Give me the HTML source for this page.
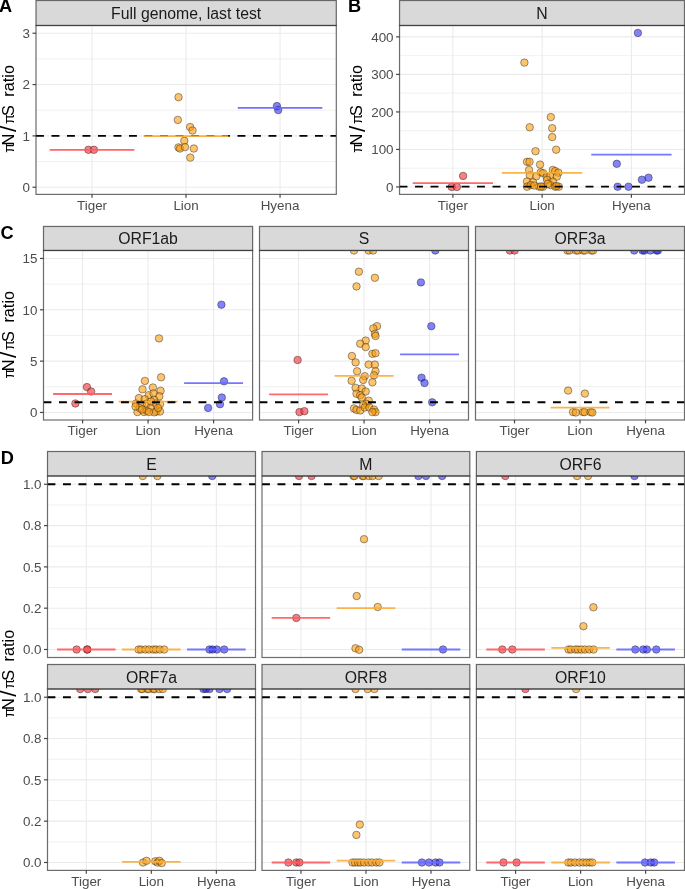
<!DOCTYPE html><html><head><meta charset="utf-8"><style>html,body{margin:0;padding:0;background:#fff;overflow:hidden}svg{display:block}text{font-family:"Liberation Sans", sans-serif;}</style></head><body>
<svg style="will-change:transform" width="685" height="889" viewBox="0 0 685 889">
<rect width="685" height="889" fill="#fff"/>
<rect x="36.0" y="25.5" width="300.3" height="168.9" fill="#fff"/>
<line x1="36.00" x2="336.30" y1="161.56" y2="161.56" stroke="#ebebeb" stroke-width="0.7" stroke-opacity="1.0" />
<line x1="36.00" x2="336.30" y1="110.22" y2="110.22" stroke="#ebebeb" stroke-width="0.7" stroke-opacity="1.0" />
<line x1="36.00" x2="336.30" y1="58.90" y2="58.90" stroke="#ebebeb" stroke-width="0.7" stroke-opacity="1.0" />
<line x1="36.00" x2="336.30" y1="187.22" y2="187.22" stroke="#ebebeb" stroke-width="1.1" stroke-opacity="1.0" />
<line x1="36.00" x2="336.30" y1="135.89" y2="135.89" stroke="#ebebeb" stroke-width="1.1" stroke-opacity="1.0" />
<line x1="36.00" x2="336.30" y1="84.56" y2="84.56" stroke="#ebebeb" stroke-width="1.1" stroke-opacity="1.0" />
<line x1="36.00" x2="336.30" y1="33.23" y2="33.23" stroke="#ebebeb" stroke-width="1.1" stroke-opacity="1.0" />
<line x1="92.04" x2="92.04" y1="25.50" y2="194.40" stroke="#ebebeb" stroke-width="1.1" stroke-opacity="1.0"/>
<line x1="186.04" x2="186.04" y1="25.50" y2="194.40" stroke="#ebebeb" stroke-width="1.1" stroke-opacity="1.0"/>
<line x1="280.04" x2="280.04" y1="25.50" y2="194.40" stroke="#ebebeb" stroke-width="1.1" stroke-opacity="1.0"/>
<clipPath id="cA"><rect x="36.0" y="25.5" width="300.3" height="168.9"/></clipPath>
<g clip-path="url(#cA)">
<circle cx="88.4" cy="149.8" r="3.75" fill="#f53b40" fill-opacity="0.65" stroke="#222" stroke-opacity="0.75" stroke-width="0.6"/>
<circle cx="93.9" cy="149.8" r="3.75" fill="#f53b40" fill-opacity="0.65" stroke="#222" stroke-opacity="0.75" stroke-width="0.6"/>
<circle cx="178.5" cy="97.2" r="3.75" fill="#fc9d0d" fill-opacity="0.6" stroke="#222" stroke-opacity="0.75" stroke-width="0.6"/>
<circle cx="177.8" cy="119.9" r="3.75" fill="#fc9d0d" fill-opacity="0.6" stroke="#222" stroke-opacity="0.75" stroke-width="0.6"/>
<circle cx="190.1" cy="127.0" r="3.75" fill="#fc9d0d" fill-opacity="0.6" stroke="#222" stroke-opacity="0.75" stroke-width="0.6"/>
<circle cx="192.5" cy="130.5" r="3.75" fill="#fc9d0d" fill-opacity="0.6" stroke="#222" stroke-opacity="0.75" stroke-width="0.6"/>
<circle cx="184.3" cy="140.8" r="3.75" fill="#fc9d0d" fill-opacity="0.6" stroke="#222" stroke-opacity="0.75" stroke-width="0.6"/>
<circle cx="178.5" cy="147.4" r="3.75" fill="#fc9d0d" fill-opacity="0.6" stroke="#222" stroke-opacity="0.75" stroke-width="0.6"/>
<circle cx="180.0" cy="148.5" r="3.75" fill="#fc9d0d" fill-opacity="0.6" stroke="#222" stroke-opacity="0.75" stroke-width="0.6"/>
<circle cx="185.0" cy="147.1" r="3.75" fill="#fc9d0d" fill-opacity="0.6" stroke="#222" stroke-opacity="0.75" stroke-width="0.6"/>
<circle cx="193.8" cy="148.5" r="3.75" fill="#fc9d0d" fill-opacity="0.6" stroke="#222" stroke-opacity="0.75" stroke-width="0.6"/>
<circle cx="190.3" cy="157.6" r="3.75" fill="#fc9d0d" fill-opacity="0.6" stroke="#222" stroke-opacity="0.75" stroke-width="0.6"/>
<circle cx="276.9" cy="106.1" r="3.75" fill="#1c1cf5" fill-opacity="0.55" stroke="#222" stroke-opacity="0.75" stroke-width="0.6"/>
<circle cx="278.2" cy="110.1" r="3.75" fill="#1c1cf5" fill-opacity="0.55" stroke="#222" stroke-opacity="0.75" stroke-width="0.6"/>
<line x1="36.00" x2="336.30" y1="135.89" y2="135.89" stroke="#000" stroke-width="1.9" stroke-opacity="1.0" stroke-dasharray="7.9 7.6"/>
<line x1="49.74" x2="134.34" y1="149.80" y2="149.80" stroke="#ff5c61" stroke-width="1.8" stroke-opacity="0.95" />
<line x1="143.74" x2="228.34" y1="136.05" y2="136.05" stroke="#f8ae3e" stroke-width="1.8" stroke-opacity="0.95" />
<line x1="237.74" x2="322.34" y1="107.80" y2="107.80" stroke="#6a6aff" stroke-width="1.8" stroke-opacity="0.95" />
</g>
<rect x="36.0" y="0.5" width="300.3" height="25.0" fill="#d9d9d9"/>
<rect x="36.0" y="0.5" width="300.3" height="25.0" fill="none" stroke="#333" stroke-width="1.2" stroke-opacity="0.72"/>
<text x="186.15" y="18.90" font-size="15.8" fill="#1a1a1a" text-anchor="middle">Full genome, last test</text>
<rect x="36.0" y="25.5" width="300.3" height="168.9" fill="none" stroke="#333" stroke-width="1.2" stroke-opacity="0.72"/>
<line x1="32.50" x2="36.00" y1="187.22" y2="187.22" stroke="#333" stroke-width="1.2" stroke-opacity="0.9" />
<text x="30.00" y="192.02" font-size="13.4" fill="#4d4d4d" text-anchor="end">0</text>
<line x1="32.50" x2="36.00" y1="135.89" y2="135.89" stroke="#333" stroke-width="1.2" stroke-opacity="0.9" />
<text x="30.00" y="140.69" font-size="13.4" fill="#4d4d4d" text-anchor="end">1</text>
<line x1="32.50" x2="36.00" y1="84.56" y2="84.56" stroke="#333" stroke-width="1.2" stroke-opacity="0.9" />
<text x="30.00" y="89.36" font-size="13.4" fill="#4d4d4d" text-anchor="end">2</text>
<line x1="32.50" x2="36.00" y1="33.23" y2="33.23" stroke="#333" stroke-width="1.2" stroke-opacity="0.9" />
<text x="30.00" y="38.03" font-size="13.4" fill="#4d4d4d" text-anchor="end">3</text>
<line x1="92.04" x2="92.04" y1="194.40" y2="197.80" stroke="#333" stroke-width="1.2" stroke-opacity="0.9"/>
<text x="92.04" y="209.80" font-size="13.4" fill="#4d4d4d" text-anchor="middle">Tiger</text>
<line x1="186.04" x2="186.04" y1="194.40" y2="197.80" stroke="#333" stroke-width="1.2" stroke-opacity="0.9"/>
<text x="186.04" y="209.80" font-size="13.4" fill="#4d4d4d" text-anchor="middle">Lion</text>
<line x1="280.04" x2="280.04" y1="194.40" y2="197.80" stroke="#333" stroke-width="1.2" stroke-opacity="0.9"/>
<text x="280.04" y="209.80" font-size="13.4" fill="#4d4d4d" text-anchor="middle">Hyena</text>
<rect x="399.55" y="25.5" width="284.95" height="168.9" fill="#fff"/>
<line x1="399.55" x2="684.50" y1="168.20" y2="168.20" stroke="#ebebeb" stroke-width="0.7" stroke-opacity="1.0" />
<line x1="399.55" x2="684.50" y1="130.68" y2="130.68" stroke="#ebebeb" stroke-width="0.7" stroke-opacity="1.0" />
<line x1="399.55" x2="684.50" y1="93.16" y2="93.16" stroke="#ebebeb" stroke-width="0.7" stroke-opacity="1.0" />
<line x1="399.55" x2="684.50" y1="55.64" y2="55.64" stroke="#ebebeb" stroke-width="0.7" stroke-opacity="1.0" />
<line x1="399.55" x2="684.50" y1="186.96" y2="186.96" stroke="#ebebeb" stroke-width="1.1" stroke-opacity="1.0" />
<line x1="399.55" x2="684.50" y1="149.44" y2="149.44" stroke="#ebebeb" stroke-width="1.1" stroke-opacity="1.0" />
<line x1="399.55" x2="684.50" y1="111.92" y2="111.92" stroke="#ebebeb" stroke-width="1.1" stroke-opacity="1.0" />
<line x1="399.55" x2="684.50" y1="74.40" y2="74.40" stroke="#ebebeb" stroke-width="1.1" stroke-opacity="1.0" />
<line x1="399.55" x2="684.50" y1="36.88" y2="36.88" stroke="#ebebeb" stroke-width="1.1" stroke-opacity="1.0" />
<line x1="452.87" x2="452.87" y1="25.50" y2="194.40" stroke="#ebebeb" stroke-width="1.1" stroke-opacity="1.0"/>
<line x1="542.13" x2="542.13" y1="25.50" y2="194.40" stroke="#ebebeb" stroke-width="1.1" stroke-opacity="1.0"/>
<line x1="631.40" x2="631.40" y1="25.50" y2="194.40" stroke="#ebebeb" stroke-width="1.1" stroke-opacity="1.0"/>
<clipPath id="cB"><rect x="399.55" y="25.5" width="284.95" height="168.9"/></clipPath>
<g clip-path="url(#cB)">
<circle cx="463.1" cy="175.9" r="3.75" fill="#f53b40" fill-opacity="0.65" stroke="#222" stroke-opacity="0.75" stroke-width="0.6"/>
<circle cx="451.7" cy="187.0" r="3.75" fill="#f53b40" fill-opacity="0.65" stroke="#222" stroke-opacity="0.75" stroke-width="0.6"/>
<circle cx="456.9" cy="187.0" r="3.75" fill="#f53b40" fill-opacity="0.65" stroke="#222" stroke-opacity="0.75" stroke-width="0.6"/>
<circle cx="550.8" cy="117.1" r="3.75" fill="#fc9d0d" fill-opacity="0.6" stroke="#222" stroke-opacity="0.75" stroke-width="0.6"/>
<circle cx="529.7" cy="127.3" r="3.75" fill="#fc9d0d" fill-opacity="0.6" stroke="#222" stroke-opacity="0.75" stroke-width="0.6"/>
<circle cx="552.2" cy="128.2" r="3.75" fill="#fc9d0d" fill-opacity="0.6" stroke="#222" stroke-opacity="0.75" stroke-width="0.6"/>
<circle cx="552.2" cy="137.1" r="3.75" fill="#fc9d0d" fill-opacity="0.6" stroke="#222" stroke-opacity="0.75" stroke-width="0.6"/>
<circle cx="535.5" cy="151.2" r="3.75" fill="#fc9d0d" fill-opacity="0.6" stroke="#222" stroke-opacity="0.75" stroke-width="0.6"/>
<circle cx="556.2" cy="149.7" r="3.75" fill="#fc9d0d" fill-opacity="0.6" stroke="#222" stroke-opacity="0.75" stroke-width="0.6"/>
<circle cx="524.4" cy="62.6" r="3.75" fill="#fc9d0d" fill-opacity="0.6" stroke="#222" stroke-opacity="0.75" stroke-width="0.6"/>
<circle cx="527.0" cy="161.8" r="3.75" fill="#fc9d0d" fill-opacity="0.6" stroke="#222" stroke-opacity="0.75" stroke-width="0.6"/>
<circle cx="529.5" cy="161.8" r="3.75" fill="#fc9d0d" fill-opacity="0.6" stroke="#222" stroke-opacity="0.75" stroke-width="0.6"/>
<circle cx="540.1" cy="164.6" r="3.75" fill="#fc9d0d" fill-opacity="0.6" stroke="#222" stroke-opacity="0.75" stroke-width="0.6"/>
<circle cx="529.1" cy="169.9" r="3.75" fill="#fc9d0d" fill-opacity="0.6" stroke="#222" stroke-opacity="0.75" stroke-width="0.6"/>
<circle cx="552.8" cy="169.9" r="3.75" fill="#fc9d0d" fill-opacity="0.6" stroke="#222" stroke-opacity="0.75" stroke-width="0.6"/>
<circle cx="555.2" cy="171.1" r="3.75" fill="#fc9d0d" fill-opacity="0.6" stroke="#222" stroke-opacity="0.75" stroke-width="0.6"/>
<circle cx="558.4" cy="172.7" r="3.75" fill="#fc9d0d" fill-opacity="0.6" stroke="#222" stroke-opacity="0.75" stroke-width="0.6"/>
<circle cx="540.7" cy="172.3" r="3.75" fill="#fc9d0d" fill-opacity="0.6" stroke="#222" stroke-opacity="0.75" stroke-width="0.6"/>
<circle cx="543.1" cy="173.1" r="3.75" fill="#fc9d0d" fill-opacity="0.6" stroke="#222" stroke-opacity="0.75" stroke-width="0.6"/>
<circle cx="529.9" cy="175.5" r="3.75" fill="#fc9d0d" fill-opacity="0.6" stroke="#222" stroke-opacity="0.75" stroke-width="0.6"/>
<circle cx="536.3" cy="176.3" r="3.75" fill="#fc9d0d" fill-opacity="0.6" stroke="#222" stroke-opacity="0.75" stroke-width="0.6"/>
<circle cx="546.7" cy="177.1" r="3.75" fill="#fc9d0d" fill-opacity="0.6" stroke="#222" stroke-opacity="0.75" stroke-width="0.6"/>
<circle cx="550.3" cy="176.3" r="3.75" fill="#fc9d0d" fill-opacity="0.6" stroke="#222" stroke-opacity="0.75" stroke-width="0.6"/>
<circle cx="556.8" cy="176.7" r="3.75" fill="#fc9d0d" fill-opacity="0.6" stroke="#222" stroke-opacity="0.75" stroke-width="0.6"/>
<circle cx="527.0" cy="181.5" r="3.75" fill="#fc9d0d" fill-opacity="0.6" stroke="#222" stroke-opacity="0.75" stroke-width="0.6"/>
<circle cx="533.1" cy="182.3" r="3.75" fill="#fc9d0d" fill-opacity="0.6" stroke="#222" stroke-opacity="0.75" stroke-width="0.6"/>
<circle cx="547.1" cy="179.9" r="3.75" fill="#fc9d0d" fill-opacity="0.6" stroke="#222" stroke-opacity="0.75" stroke-width="0.6"/>
<circle cx="552.8" cy="181.5" r="3.75" fill="#fc9d0d" fill-opacity="0.6" stroke="#222" stroke-opacity="0.75" stroke-width="0.6"/>
<circle cx="527.0" cy="186.7" r="3.75" fill="#fc9d0d" fill-opacity="0.6" stroke="#222" stroke-opacity="0.75" stroke-width="0.6"/>
<circle cx="530.7" cy="185.1" r="3.75" fill="#fc9d0d" fill-opacity="0.6" stroke="#222" stroke-opacity="0.75" stroke-width="0.6"/>
<circle cx="539.1" cy="186.7" r="3.75" fill="#fc9d0d" fill-opacity="0.6" stroke="#222" stroke-opacity="0.75" stroke-width="0.6"/>
<circle cx="543.1" cy="186.7" r="3.75" fill="#fc9d0d" fill-opacity="0.6" stroke="#222" stroke-opacity="0.75" stroke-width="0.6"/>
<circle cx="550.3" cy="185.1" r="3.75" fill="#fc9d0d" fill-opacity="0.6" stroke="#222" stroke-opacity="0.75" stroke-width="0.6"/>
<circle cx="555.2" cy="186.7" r="3.75" fill="#fc9d0d" fill-opacity="0.6" stroke="#222" stroke-opacity="0.75" stroke-width="0.6"/>
<circle cx="558.8" cy="186.7" r="3.75" fill="#fc9d0d" fill-opacity="0.6" stroke="#222" stroke-opacity="0.75" stroke-width="0.6"/>
<circle cx="534.3" cy="185.5" r="3.75" fill="#fc9d0d" fill-opacity="0.6" stroke="#222" stroke-opacity="0.75" stroke-width="0.6"/>
<circle cx="547.9" cy="183.9" r="3.75" fill="#fc9d0d" fill-opacity="0.6" stroke="#222" stroke-opacity="0.75" stroke-width="0.6"/>
<circle cx="541.0" cy="186.5" r="3.75" fill="#fc9d0d" fill-opacity="0.6" stroke="#222" stroke-opacity="0.75" stroke-width="0.6"/>
<circle cx="556.5" cy="186.0" r="3.75" fill="#fc9d0d" fill-opacity="0.6" stroke="#222" stroke-opacity="0.75" stroke-width="0.6"/>
<circle cx="637.9" cy="32.9" r="3.75" fill="#1c1cf5" fill-opacity="0.55" stroke="#222" stroke-opacity="0.75" stroke-width="0.6"/>
<circle cx="616.8" cy="163.8" r="3.75" fill="#1c1cf5" fill-opacity="0.55" stroke="#222" stroke-opacity="0.75" stroke-width="0.6"/>
<circle cx="617.6" cy="186.7" r="3.75" fill="#1c1cf5" fill-opacity="0.55" stroke="#222" stroke-opacity="0.75" stroke-width="0.6"/>
<circle cx="628.5" cy="186.7" r="3.75" fill="#1c1cf5" fill-opacity="0.55" stroke="#222" stroke-opacity="0.75" stroke-width="0.6"/>
<circle cx="641.9" cy="179.7" r="3.75" fill="#1c1cf5" fill-opacity="0.55" stroke="#222" stroke-opacity="0.75" stroke-width="0.6"/>
<circle cx="648.5" cy="177.7" r="3.75" fill="#1c1cf5" fill-opacity="0.55" stroke="#222" stroke-opacity="0.75" stroke-width="0.6"/>
<line x1="412.70" x2="493.04" y1="183.10" y2="183.10" stroke="#ff5c61" stroke-width="1.8" stroke-opacity="0.92" />
<line x1="501.96" x2="582.30" y1="172.80" y2="172.80" stroke="#f8ae3e" stroke-width="1.8" stroke-opacity="0.92" />
<line x1="591.23" x2="671.57" y1="154.70" y2="154.70" stroke="#6a6aff" stroke-width="1.8" stroke-opacity="0.92" />
<line x1="399.55" x2="684.50" y1="186.58" y2="186.58" stroke="#000" stroke-width="1.9" stroke-opacity="1.0" stroke-dasharray="7.9 7.6"/>
</g>
<rect x="399.55" y="0.5" width="284.95" height="25.0" fill="#d9d9d9"/>
<rect x="399.55" y="0.5" width="284.95" height="25.0" fill="none" stroke="#333" stroke-width="1.2" stroke-opacity="0.72"/>
<text x="542.02" y="18.90" font-size="15.8" fill="#1a1a1a" text-anchor="middle">N</text>
<rect x="399.55" y="25.5" width="284.95" height="168.9" fill="none" stroke="#333" stroke-width="1.2" stroke-opacity="0.72"/>
<line x1="396.05" x2="399.55" y1="186.96" y2="186.96" stroke="#333" stroke-width="1.2" stroke-opacity="0.9" />
<text x="393.55" y="191.76" font-size="13.4" fill="#4d4d4d" text-anchor="end">0</text>
<line x1="396.05" x2="399.55" y1="149.44" y2="149.44" stroke="#333" stroke-width="1.2" stroke-opacity="0.9" />
<text x="393.55" y="154.24" font-size="13.4" fill="#4d4d4d" text-anchor="end">100</text>
<line x1="396.05" x2="399.55" y1="111.92" y2="111.92" stroke="#333" stroke-width="1.2" stroke-opacity="0.9" />
<text x="393.55" y="116.72" font-size="13.4" fill="#4d4d4d" text-anchor="end">200</text>
<line x1="396.05" x2="399.55" y1="74.40" y2="74.40" stroke="#333" stroke-width="1.2" stroke-opacity="0.9" />
<text x="393.55" y="79.20" font-size="13.4" fill="#4d4d4d" text-anchor="end">300</text>
<line x1="396.05" x2="399.55" y1="36.88" y2="36.88" stroke="#333" stroke-width="1.2" stroke-opacity="0.9" />
<text x="393.55" y="41.68" font-size="13.4" fill="#4d4d4d" text-anchor="end">400</text>
<line x1="452.87" x2="452.87" y1="194.40" y2="197.80" stroke="#333" stroke-width="1.2" stroke-opacity="0.9"/>
<text x="452.87" y="209.80" font-size="13.4" fill="#4d4d4d" text-anchor="middle">Tiger</text>
<line x1="542.13" x2="542.13" y1="194.40" y2="197.80" stroke="#333" stroke-width="1.2" stroke-opacity="0.9"/>
<text x="542.13" y="209.80" font-size="13.4" fill="#4d4d4d" text-anchor="middle">Lion</text>
<line x1="631.40" x2="631.40" y1="194.40" y2="197.80" stroke="#333" stroke-width="1.2" stroke-opacity="0.9"/>
<text x="631.40" y="209.80" font-size="13.4" fill="#4d4d4d" text-anchor="middle">Hyena</text>
<rect x="43.5" y="250.48" width="209.1" height="169.52" fill="#fff"/>
<line x1="43.50" x2="252.60" y1="386.78" y2="386.78" stroke="#ebebeb" stroke-width="0.7" stroke-opacity="1.0" />
<line x1="43.50" x2="252.60" y1="335.45" y2="335.45" stroke="#ebebeb" stroke-width="0.7" stroke-opacity="1.0" />
<line x1="43.50" x2="252.60" y1="284.11" y2="284.11" stroke="#ebebeb" stroke-width="0.7" stroke-opacity="1.0" />
<line x1="43.50" x2="252.60" y1="412.45" y2="412.45" stroke="#ebebeb" stroke-width="1.1" stroke-opacity="1.0" />
<line x1="43.50" x2="252.60" y1="361.12" y2="361.12" stroke="#ebebeb" stroke-width="1.1" stroke-opacity="1.0" />
<line x1="43.50" x2="252.60" y1="309.78" y2="309.78" stroke="#ebebeb" stroke-width="1.1" stroke-opacity="1.0" />
<line x1="43.50" x2="252.60" y1="258.44" y2="258.44" stroke="#ebebeb" stroke-width="1.1" stroke-opacity="1.0" />
<line x1="82.57" x2="82.57" y1="250.48" y2="420.00" stroke="#ebebeb" stroke-width="1.1" stroke-opacity="1.0"/>
<line x1="148.07" x2="148.07" y1="250.48" y2="420.00" stroke="#ebebeb" stroke-width="1.1" stroke-opacity="1.0"/>
<line x1="213.57" x2="213.57" y1="250.48" y2="420.00" stroke="#ebebeb" stroke-width="1.1" stroke-opacity="1.0"/>
<clipPath id="cC1"><rect x="43.5" y="250.48" width="209.1" height="169.52"/></clipPath>
<g clip-path="url(#cC1)">
<circle cx="86.9" cy="387.1" r="3.75" fill="#f53b40" fill-opacity="0.65" stroke="#222" stroke-opacity="0.75" stroke-width="0.6"/>
<circle cx="91.1" cy="391.5" r="3.75" fill="#f53b40" fill-opacity="0.65" stroke="#222" stroke-opacity="0.75" stroke-width="0.6"/>
<circle cx="75.4" cy="403.5" r="3.75" fill="#f53b40" fill-opacity="0.65" stroke="#222" stroke-opacity="0.75" stroke-width="0.6"/>
<circle cx="159.0" cy="338.4" r="3.75" fill="#fc9d0d" fill-opacity="0.6" stroke="#222" stroke-opacity="0.75" stroke-width="0.6"/>
<circle cx="161.1" cy="377.3" r="3.75" fill="#fc9d0d" fill-opacity="0.6" stroke="#222" stroke-opacity="0.75" stroke-width="0.6"/>
<circle cx="144.9" cy="380.9" r="3.75" fill="#fc9d0d" fill-opacity="0.6" stroke="#222" stroke-opacity="0.75" stroke-width="0.6"/>
<circle cx="142.5" cy="389.3" r="3.75" fill="#fc9d0d" fill-opacity="0.6" stroke="#222" stroke-opacity="0.75" stroke-width="0.6"/>
<circle cx="152.9" cy="387.5" r="3.75" fill="#fc9d0d" fill-opacity="0.6" stroke="#222" stroke-opacity="0.75" stroke-width="0.6"/>
<circle cx="160.6" cy="390.8" r="3.75" fill="#fc9d0d" fill-opacity="0.6" stroke="#222" stroke-opacity="0.75" stroke-width="0.6"/>
<circle cx="148.7" cy="395.2" r="3.75" fill="#fc9d0d" fill-opacity="0.6" stroke="#222" stroke-opacity="0.75" stroke-width="0.6"/>
<circle cx="153.5" cy="393.4" r="3.75" fill="#fc9d0d" fill-opacity="0.6" stroke="#222" stroke-opacity="0.75" stroke-width="0.6"/>
<circle cx="159.3" cy="396.3" r="3.75" fill="#fc9d0d" fill-opacity="0.6" stroke="#222" stroke-opacity="0.75" stroke-width="0.6"/>
<circle cx="138.9" cy="398.1" r="3.75" fill="#fc9d0d" fill-opacity="0.6" stroke="#222" stroke-opacity="0.75" stroke-width="0.6"/>
<circle cx="144.7" cy="399.2" r="3.75" fill="#fc9d0d" fill-opacity="0.6" stroke="#222" stroke-opacity="0.75" stroke-width="0.6"/>
<circle cx="154.2" cy="399.9" r="3.75" fill="#fc9d0d" fill-opacity="0.6" stroke="#222" stroke-opacity="0.75" stroke-width="0.6"/>
<circle cx="136.0" cy="403.6" r="3.75" fill="#fc9d0d" fill-opacity="0.6" stroke="#222" stroke-opacity="0.75" stroke-width="0.6"/>
<circle cx="141.8" cy="404.3" r="3.75" fill="#fc9d0d" fill-opacity="0.6" stroke="#222" stroke-opacity="0.75" stroke-width="0.6"/>
<circle cx="146.9" cy="403.6" r="3.75" fill="#fc9d0d" fill-opacity="0.6" stroke="#222" stroke-opacity="0.75" stroke-width="0.6"/>
<circle cx="155.7" cy="403.6" r="3.75" fill="#fc9d0d" fill-opacity="0.6" stroke="#222" stroke-opacity="0.75" stroke-width="0.6"/>
<circle cx="160.0" cy="404.3" r="3.75" fill="#fc9d0d" fill-opacity="0.6" stroke="#222" stroke-opacity="0.75" stroke-width="0.6"/>
<circle cx="137.4" cy="412.0" r="3.75" fill="#fc9d0d" fill-opacity="0.6" stroke="#222" stroke-opacity="0.75" stroke-width="0.6"/>
<circle cx="144.0" cy="412.0" r="3.75" fill="#fc9d0d" fill-opacity="0.6" stroke="#222" stroke-opacity="0.75" stroke-width="0.6"/>
<circle cx="150.5" cy="408.0" r="3.75" fill="#fc9d0d" fill-opacity="0.6" stroke="#222" stroke-opacity="0.75" stroke-width="0.6"/>
<circle cx="156.4" cy="411.6" r="3.75" fill="#fc9d0d" fill-opacity="0.6" stroke="#222" stroke-opacity="0.75" stroke-width="0.6"/>
<circle cx="160.0" cy="411.6" r="3.75" fill="#fc9d0d" fill-opacity="0.6" stroke="#222" stroke-opacity="0.75" stroke-width="0.6"/>
<circle cx="139.6" cy="408.0" r="3.75" fill="#fc9d0d" fill-opacity="0.6" stroke="#222" stroke-opacity="0.75" stroke-width="0.6"/>
<circle cx="146.9" cy="410.9" r="3.75" fill="#fc9d0d" fill-opacity="0.6" stroke="#222" stroke-opacity="0.75" stroke-width="0.6"/>
<circle cx="154.2" cy="412.3" r="3.75" fill="#fc9d0d" fill-opacity="0.6" stroke="#222" stroke-opacity="0.75" stroke-width="0.6"/>
<circle cx="135.5" cy="406.5" r="3.75" fill="#fc9d0d" fill-opacity="0.6" stroke="#222" stroke-opacity="0.75" stroke-width="0.6"/>
<circle cx="151.0" cy="401.5" r="3.75" fill="#fc9d0d" fill-opacity="0.6" stroke="#222" stroke-opacity="0.75" stroke-width="0.6"/>
<circle cx="158.0" cy="408.0" r="3.75" fill="#fc9d0d" fill-opacity="0.6" stroke="#222" stroke-opacity="0.75" stroke-width="0.6"/>
<circle cx="142.0" cy="409.5" r="3.75" fill="#fc9d0d" fill-opacity="0.6" stroke="#222" stroke-opacity="0.75" stroke-width="0.6"/>
<circle cx="149.0" cy="412.0" r="3.75" fill="#fc9d0d" fill-opacity="0.6" stroke="#222" stroke-opacity="0.75" stroke-width="0.6"/>
<circle cx="221.4" cy="304.7" r="3.75" fill="#1c1cf5" fill-opacity="0.55" stroke="#222" stroke-opacity="0.75" stroke-width="0.6"/>
<circle cx="224.0" cy="381.3" r="3.75" fill="#1c1cf5" fill-opacity="0.55" stroke="#222" stroke-opacity="0.75" stroke-width="0.6"/>
<circle cx="221.8" cy="397.5" r="3.75" fill="#1c1cf5" fill-opacity="0.55" stroke="#222" stroke-opacity="0.75" stroke-width="0.6"/>
<circle cx="220.0" cy="404.2" r="3.75" fill="#1c1cf5" fill-opacity="0.55" stroke="#222" stroke-opacity="0.75" stroke-width="0.6"/>
<circle cx="208.1" cy="407.9" r="3.75" fill="#1c1cf5" fill-opacity="0.55" stroke="#222" stroke-opacity="0.75" stroke-width="0.6"/>
<line x1="53.09" x2="112.04" y1="394.00" y2="394.00" stroke="#ff5c61" stroke-width="1.8" stroke-opacity="0.92" />
<line x1="118.59" x2="177.54" y1="401.60" y2="401.60" stroke="#f8ae3e" stroke-width="1.8" stroke-opacity="0.92" />
<line x1="184.09" x2="243.04" y1="383.20" y2="383.20" stroke="#6a6aff" stroke-width="1.8" stroke-opacity="0.92" />
<line x1="43.50" x2="252.60" y1="402.18" y2="402.18" stroke="#000" stroke-width="1.9" stroke-opacity="1.0" stroke-dasharray="7.9 7.6"/>
</g>
<rect x="43.5" y="226.45" width="209.1" height="24.03" fill="#d9d9d9"/>
<rect x="43.5" y="226.45" width="209.1" height="24.03" fill="none" stroke="#333" stroke-width="1.2" stroke-opacity="0.72"/>
<text x="148.05" y="243.88" font-size="15.8" fill="#1a1a1a" text-anchor="middle">ORF1ab</text>
<rect x="43.5" y="250.48" width="209.1" height="169.52" fill="none" stroke="#333" stroke-width="1.2" stroke-opacity="0.72"/>
<line x1="40.00" x2="43.50" y1="412.45" y2="412.45" stroke="#333" stroke-width="1.2" stroke-opacity="0.9" />
<text x="37.50" y="417.25" font-size="13.4" fill="#4d4d4d" text-anchor="end">0</text>
<line x1="40.00" x2="43.50" y1="361.12" y2="361.12" stroke="#333" stroke-width="1.2" stroke-opacity="0.9" />
<text x="37.50" y="365.92" font-size="13.4" fill="#4d4d4d" text-anchor="end">5</text>
<line x1="40.00" x2="43.50" y1="309.78" y2="309.78" stroke="#333" stroke-width="1.2" stroke-opacity="0.9" />
<text x="37.50" y="314.58" font-size="13.4" fill="#4d4d4d" text-anchor="end">10</text>
<line x1="40.00" x2="43.50" y1="258.44" y2="258.44" stroke="#333" stroke-width="1.2" stroke-opacity="0.9" />
<text x="37.50" y="263.25" font-size="13.4" fill="#4d4d4d" text-anchor="end">15</text>
<line x1="82.57" x2="82.57" y1="420.00" y2="423.40" stroke="#333" stroke-width="1.2" stroke-opacity="0.9"/>
<text x="82.57" y="435.40" font-size="13.4" fill="#4d4d4d" text-anchor="middle">Tiger</text>
<line x1="148.07" x2="148.07" y1="420.00" y2="423.40" stroke="#333" stroke-width="1.2" stroke-opacity="0.9"/>
<text x="148.07" y="435.40" font-size="13.4" fill="#4d4d4d" text-anchor="middle">Lion</text>
<line x1="213.57" x2="213.57" y1="420.00" y2="423.40" stroke="#333" stroke-width="1.2" stroke-opacity="0.9"/>
<text x="213.57" y="435.40" font-size="13.4" fill="#4d4d4d" text-anchor="middle">Hyena</text>
<rect x="259.5" y="250.48" width="209.0" height="169.52" fill="#fff"/>
<line x1="259.50" x2="468.50" y1="386.78" y2="386.78" stroke="#ebebeb" stroke-width="0.7" stroke-opacity="1.0" />
<line x1="259.50" x2="468.50" y1="335.45" y2="335.45" stroke="#ebebeb" stroke-width="0.7" stroke-opacity="1.0" />
<line x1="259.50" x2="468.50" y1="284.11" y2="284.11" stroke="#ebebeb" stroke-width="0.7" stroke-opacity="1.0" />
<line x1="259.50" x2="468.50" y1="412.45" y2="412.45" stroke="#ebebeb" stroke-width="1.1" stroke-opacity="1.0" />
<line x1="259.50" x2="468.50" y1="361.12" y2="361.12" stroke="#ebebeb" stroke-width="1.1" stroke-opacity="1.0" />
<line x1="259.50" x2="468.50" y1="309.78" y2="309.78" stroke="#ebebeb" stroke-width="1.1" stroke-opacity="1.0" />
<line x1="259.50" x2="468.50" y1="258.44" y2="258.44" stroke="#ebebeb" stroke-width="1.1" stroke-opacity="1.0" />
<line x1="298.57" x2="298.57" y1="250.48" y2="420.00" stroke="#ebebeb" stroke-width="1.1" stroke-opacity="1.0"/>
<line x1="364.07" x2="364.07" y1="250.48" y2="420.00" stroke="#ebebeb" stroke-width="1.1" stroke-opacity="1.0"/>
<line x1="429.57" x2="429.57" y1="250.48" y2="420.00" stroke="#ebebeb" stroke-width="1.1" stroke-opacity="1.0"/>
<clipPath id="cC2"><rect x="259.5" y="250.48" width="209.0" height="169.52"/></clipPath>
<g clip-path="url(#cC2)">
<circle cx="297.6" cy="360.0" r="3.75" fill="#f53b40" fill-opacity="0.65" stroke="#222" stroke-opacity="0.75" stroke-width="0.6"/>
<circle cx="299.5" cy="412.1" r="3.75" fill="#f53b40" fill-opacity="0.65" stroke="#222" stroke-opacity="0.75" stroke-width="0.6"/>
<circle cx="304.4" cy="411.2" r="3.75" fill="#f53b40" fill-opacity="0.65" stroke="#222" stroke-opacity="0.75" stroke-width="0.6"/>
<circle cx="354.0" cy="250.5" r="3.75" fill="#fc9d0d" fill-opacity="0.6" stroke="#222" stroke-opacity="0.75" stroke-width="0.6"/>
<circle cx="368.7" cy="250.5" r="3.75" fill="#fc9d0d" fill-opacity="0.6" stroke="#222" stroke-opacity="0.75" stroke-width="0.6"/>
<circle cx="373.0" cy="250.5" r="3.75" fill="#fc9d0d" fill-opacity="0.6" stroke="#222" stroke-opacity="0.75" stroke-width="0.6"/>
<circle cx="358.9" cy="271.7" r="3.75" fill="#fc9d0d" fill-opacity="0.6" stroke="#222" stroke-opacity="0.75" stroke-width="0.6"/>
<circle cx="374.9" cy="277.8" r="3.75" fill="#fc9d0d" fill-opacity="0.6" stroke="#222" stroke-opacity="0.75" stroke-width="0.6"/>
<circle cx="356.5" cy="286.4" r="3.75" fill="#fc9d0d" fill-opacity="0.6" stroke="#222" stroke-opacity="0.75" stroke-width="0.6"/>
<circle cx="377.0" cy="326.2" r="3.75" fill="#fc9d0d" fill-opacity="0.6" stroke="#222" stroke-opacity="0.75" stroke-width="0.6"/>
<circle cx="373.3" cy="328.4" r="3.75" fill="#fc9d0d" fill-opacity="0.6" stroke="#222" stroke-opacity="0.75" stroke-width="0.6"/>
<circle cx="374.9" cy="333.9" r="3.75" fill="#fc9d0d" fill-opacity="0.6" stroke="#222" stroke-opacity="0.75" stroke-width="0.6"/>
<circle cx="375.5" cy="336.0" r="3.75" fill="#fc9d0d" fill-opacity="0.6" stroke="#222" stroke-opacity="0.75" stroke-width="0.6"/>
<circle cx="365.7" cy="340.6" r="3.75" fill="#fc9d0d" fill-opacity="0.6" stroke="#222" stroke-opacity="0.75" stroke-width="0.6"/>
<circle cx="360.2" cy="343.7" r="3.75" fill="#fc9d0d" fill-opacity="0.6" stroke="#222" stroke-opacity="0.75" stroke-width="0.6"/>
<circle cx="365.7" cy="347.1" r="3.75" fill="#fc9d0d" fill-opacity="0.6" stroke="#222" stroke-opacity="0.75" stroke-width="0.6"/>
<circle cx="372.4" cy="353.8" r="3.75" fill="#fc9d0d" fill-opacity="0.6" stroke="#222" stroke-opacity="0.75" stroke-width="0.6"/>
<circle cx="375.5" cy="353.2" r="3.75" fill="#fc9d0d" fill-opacity="0.6" stroke="#222" stroke-opacity="0.75" stroke-width="0.6"/>
<circle cx="351.9" cy="356.0" r="3.75" fill="#fc9d0d" fill-opacity="0.6" stroke="#222" stroke-opacity="0.75" stroke-width="0.6"/>
<circle cx="355.6" cy="362.4" r="3.75" fill="#fc9d0d" fill-opacity="0.6" stroke="#222" stroke-opacity="0.75" stroke-width="0.6"/>
<circle cx="368.7" cy="364.6" r="3.75" fill="#fc9d0d" fill-opacity="0.6" stroke="#222" stroke-opacity="0.75" stroke-width="0.6"/>
<circle cx="374.9" cy="364.6" r="3.75" fill="#fc9d0d" fill-opacity="0.6" stroke="#222" stroke-opacity="0.75" stroke-width="0.6"/>
<circle cx="357.1" cy="371.3" r="3.75" fill="#fc9d0d" fill-opacity="0.6" stroke="#222" stroke-opacity="0.75" stroke-width="0.6"/>
<circle cx="375.5" cy="371.3" r="3.75" fill="#fc9d0d" fill-opacity="0.6" stroke="#222" stroke-opacity="0.75" stroke-width="0.6"/>
<circle cx="364.8" cy="376.2" r="3.75" fill="#fc9d0d" fill-opacity="0.6" stroke="#222" stroke-opacity="0.75" stroke-width="0.6"/>
<circle cx="374.0" cy="375.3" r="3.75" fill="#fc9d0d" fill-opacity="0.6" stroke="#222" stroke-opacity="0.75" stroke-width="0.6"/>
<circle cx="363.2" cy="379.9" r="3.75" fill="#fc9d0d" fill-opacity="0.6" stroke="#222" stroke-opacity="0.75" stroke-width="0.6"/>
<circle cx="351.6" cy="380.8" r="3.75" fill="#fc9d0d" fill-opacity="0.6" stroke="#222" stroke-opacity="0.75" stroke-width="0.6"/>
<circle cx="372.4" cy="382.3" r="3.75" fill="#fc9d0d" fill-opacity="0.6" stroke="#222" stroke-opacity="0.75" stroke-width="0.6"/>
<circle cx="355.6" cy="387.9" r="3.75" fill="#fc9d0d" fill-opacity="0.6" stroke="#222" stroke-opacity="0.75" stroke-width="0.6"/>
<circle cx="361.7" cy="388.5" r="3.75" fill="#fc9d0d" fill-opacity="0.6" stroke="#222" stroke-opacity="0.75" stroke-width="0.6"/>
<circle cx="365.7" cy="391.5" r="3.75" fill="#fc9d0d" fill-opacity="0.6" stroke="#222" stroke-opacity="0.75" stroke-width="0.6"/>
<circle cx="356.5" cy="393.7" r="3.75" fill="#fc9d0d" fill-opacity="0.6" stroke="#222" stroke-opacity="0.75" stroke-width="0.6"/>
<circle cx="360.2" cy="395.2" r="3.75" fill="#fc9d0d" fill-opacity="0.6" stroke="#222" stroke-opacity="0.75" stroke-width="0.6"/>
<circle cx="361.7" cy="397.4" r="3.75" fill="#fc9d0d" fill-opacity="0.6" stroke="#222" stroke-opacity="0.75" stroke-width="0.6"/>
<circle cx="368.7" cy="400.7" r="3.75" fill="#fc9d0d" fill-opacity="0.6" stroke="#222" stroke-opacity="0.75" stroke-width="0.6"/>
<circle cx="366.3" cy="403.8" r="3.75" fill="#fc9d0d" fill-opacity="0.6" stroke="#222" stroke-opacity="0.75" stroke-width="0.6"/>
<circle cx="363.2" cy="405.3" r="3.75" fill="#fc9d0d" fill-opacity="0.6" stroke="#222" stroke-opacity="0.75" stroke-width="0.6"/>
<circle cx="354.0" cy="408.4" r="3.75" fill="#fc9d0d" fill-opacity="0.6" stroke="#222" stroke-opacity="0.75" stroke-width="0.6"/>
<circle cx="356.5" cy="409.9" r="3.75" fill="#fc9d0d" fill-opacity="0.6" stroke="#222" stroke-opacity="0.75" stroke-width="0.6"/>
<circle cx="360.2" cy="410.5" r="3.75" fill="#fc9d0d" fill-opacity="0.6" stroke="#222" stroke-opacity="0.75" stroke-width="0.6"/>
<circle cx="364.8" cy="407.5" r="3.75" fill="#fc9d0d" fill-opacity="0.6" stroke="#222" stroke-opacity="0.75" stroke-width="0.6"/>
<circle cx="369.4" cy="407.5" r="3.75" fill="#fc9d0d" fill-opacity="0.6" stroke="#222" stroke-opacity="0.75" stroke-width="0.6"/>
<circle cx="374.0" cy="409.6" r="3.75" fill="#fc9d0d" fill-opacity="0.6" stroke="#222" stroke-opacity="0.75" stroke-width="0.6"/>
<circle cx="375.5" cy="412.1" r="3.75" fill="#fc9d0d" fill-opacity="0.6" stroke="#222" stroke-opacity="0.75" stroke-width="0.6"/>
<circle cx="372.4" cy="412.1" r="3.75" fill="#fc9d0d" fill-opacity="0.6" stroke="#222" stroke-opacity="0.75" stroke-width="0.6"/>
<circle cx="435.3" cy="250.5" r="3.75" fill="#1c1cf5" fill-opacity="0.55" stroke="#222" stroke-opacity="0.75" stroke-width="0.6"/>
<circle cx="420.9" cy="282.4" r="3.75" fill="#1c1cf5" fill-opacity="0.55" stroke="#222" stroke-opacity="0.75" stroke-width="0.6"/>
<circle cx="431.3" cy="326.2" r="3.75" fill="#1c1cf5" fill-opacity="0.55" stroke="#222" stroke-opacity="0.75" stroke-width="0.6"/>
<circle cx="421.5" cy="377.7" r="3.75" fill="#1c1cf5" fill-opacity="0.55" stroke="#222" stroke-opacity="0.75" stroke-width="0.6"/>
<circle cx="424.5" cy="383.0" r="3.75" fill="#1c1cf5" fill-opacity="0.55" stroke="#222" stroke-opacity="0.75" stroke-width="0.6"/>
<circle cx="432.2" cy="402.3" r="3.75" fill="#1c1cf5" fill-opacity="0.55" stroke="#222" stroke-opacity="0.75" stroke-width="0.6"/>
<line x1="269.09" x2="328.05" y1="394.30" y2="394.30" stroke="#ff5c61" stroke-width="1.8" stroke-opacity="0.92" />
<line x1="334.59" x2="393.55" y1="375.90" y2="375.90" stroke="#f8ae3e" stroke-width="1.8" stroke-opacity="0.92" />
<line x1="400.09" x2="459.05" y1="354.40" y2="354.40" stroke="#6a6aff" stroke-width="1.8" stroke-opacity="0.92" />
<line x1="259.50" x2="468.50" y1="402.18" y2="402.18" stroke="#000" stroke-width="1.9" stroke-opacity="1.0" stroke-dasharray="7.9 7.6"/>
</g>
<rect x="259.5" y="226.45" width="209.0" height="24.03" fill="#d9d9d9"/>
<rect x="259.5" y="226.45" width="209.0" height="24.03" fill="none" stroke="#333" stroke-width="1.2" stroke-opacity="0.72"/>
<text x="364.00" y="243.88" font-size="15.8" fill="#1a1a1a" text-anchor="middle">S</text>
<rect x="259.5" y="250.48" width="209.0" height="169.52" fill="none" stroke="#333" stroke-width="1.2" stroke-opacity="0.72"/>
<line x1="298.57" x2="298.57" y1="420.00" y2="423.40" stroke="#333" stroke-width="1.2" stroke-opacity="0.9"/>
<text x="298.57" y="435.40" font-size="13.4" fill="#4d4d4d" text-anchor="middle">Tiger</text>
<line x1="364.07" x2="364.07" y1="420.00" y2="423.40" stroke="#333" stroke-width="1.2" stroke-opacity="0.9"/>
<text x="364.07" y="435.40" font-size="13.4" fill="#4d4d4d" text-anchor="middle">Lion</text>
<line x1="429.57" x2="429.57" y1="420.00" y2="423.40" stroke="#333" stroke-width="1.2" stroke-opacity="0.9"/>
<text x="429.57" y="435.40" font-size="13.4" fill="#4d4d4d" text-anchor="middle">Hyena</text>
<rect x="475.5" y="250.48" width="209.0" height="169.52" fill="#fff"/>
<line x1="475.50" x2="684.50" y1="386.78" y2="386.78" stroke="#ebebeb" stroke-width="0.7" stroke-opacity="1.0" />
<line x1="475.50" x2="684.50" y1="335.45" y2="335.45" stroke="#ebebeb" stroke-width="0.7" stroke-opacity="1.0" />
<line x1="475.50" x2="684.50" y1="284.11" y2="284.11" stroke="#ebebeb" stroke-width="0.7" stroke-opacity="1.0" />
<line x1="475.50" x2="684.50" y1="412.45" y2="412.45" stroke="#ebebeb" stroke-width="1.1" stroke-opacity="1.0" />
<line x1="475.50" x2="684.50" y1="361.12" y2="361.12" stroke="#ebebeb" stroke-width="1.1" stroke-opacity="1.0" />
<line x1="475.50" x2="684.50" y1="309.78" y2="309.78" stroke="#ebebeb" stroke-width="1.1" stroke-opacity="1.0" />
<line x1="475.50" x2="684.50" y1="258.44" y2="258.44" stroke="#ebebeb" stroke-width="1.1" stroke-opacity="1.0" />
<line x1="514.52" x2="514.52" y1="250.48" y2="420.00" stroke="#ebebeb" stroke-width="1.1" stroke-opacity="1.0"/>
<line x1="580.02" x2="580.02" y1="250.48" y2="420.00" stroke="#ebebeb" stroke-width="1.1" stroke-opacity="1.0"/>
<line x1="645.52" x2="645.52" y1="250.48" y2="420.00" stroke="#ebebeb" stroke-width="1.1" stroke-opacity="1.0"/>
<clipPath id="cC3"><rect x="475.5" y="250.48" width="209.0" height="169.52"/></clipPath>
<g clip-path="url(#cC3)">
<circle cx="509.9" cy="250.5" r="3.75" fill="#f53b40" fill-opacity="0.65" stroke="#222" stroke-opacity="0.75" stroke-width="0.6"/>
<circle cx="514.6" cy="250.5" r="3.75" fill="#f53b40" fill-opacity="0.65" stroke="#222" stroke-opacity="0.75" stroke-width="0.6"/>
<circle cx="567.5" cy="250.5" r="3.75" fill="#fc9d0d" fill-opacity="0.6" stroke="#222" stroke-opacity="0.75" stroke-width="0.6"/>
<circle cx="569.5" cy="250.5" r="3.75" fill="#fc9d0d" fill-opacity="0.6" stroke="#222" stroke-opacity="0.75" stroke-width="0.6"/>
<circle cx="576.2" cy="250.5" r="3.75" fill="#fc9d0d" fill-opacity="0.6" stroke="#222" stroke-opacity="0.75" stroke-width="0.6"/>
<circle cx="578.0" cy="250.5" r="3.75" fill="#fc9d0d" fill-opacity="0.6" stroke="#222" stroke-opacity="0.75" stroke-width="0.6"/>
<circle cx="583.1" cy="250.5" r="3.75" fill="#fc9d0d" fill-opacity="0.6" stroke="#222" stroke-opacity="0.75" stroke-width="0.6"/>
<circle cx="585.0" cy="250.5" r="3.75" fill="#fc9d0d" fill-opacity="0.6" stroke="#222" stroke-opacity="0.75" stroke-width="0.6"/>
<circle cx="591.5" cy="250.5" r="3.75" fill="#fc9d0d" fill-opacity="0.6" stroke="#222" stroke-opacity="0.75" stroke-width="0.6"/>
<circle cx="593.0" cy="250.5" r="3.75" fill="#fc9d0d" fill-opacity="0.6" stroke="#222" stroke-opacity="0.75" stroke-width="0.6"/>
<circle cx="568.1" cy="390.6" r="3.75" fill="#fc9d0d" fill-opacity="0.6" stroke="#222" stroke-opacity="0.75" stroke-width="0.6"/>
<circle cx="584.9" cy="393.6" r="3.75" fill="#fc9d0d" fill-opacity="0.6" stroke="#222" stroke-opacity="0.75" stroke-width="0.6"/>
<circle cx="573.0" cy="412.1" r="3.75" fill="#fc9d0d" fill-opacity="0.6" stroke="#222" stroke-opacity="0.75" stroke-width="0.6"/>
<circle cx="575.8" cy="412.5" r="3.75" fill="#fc9d0d" fill-opacity="0.6" stroke="#222" stroke-opacity="0.75" stroke-width="0.6"/>
<circle cx="583.0" cy="412.1" r="3.75" fill="#fc9d0d" fill-opacity="0.6" stroke="#222" stroke-opacity="0.75" stroke-width="0.6"/>
<circle cx="584.6" cy="412.1" r="3.75" fill="#fc9d0d" fill-opacity="0.6" stroke="#222" stroke-opacity="0.75" stroke-width="0.6"/>
<circle cx="590.7" cy="412.1" r="3.75" fill="#fc9d0d" fill-opacity="0.6" stroke="#222" stroke-opacity="0.75" stroke-width="0.6"/>
<circle cx="592.3" cy="412.5" r="3.75" fill="#fc9d0d" fill-opacity="0.6" stroke="#222" stroke-opacity="0.75" stroke-width="0.6"/>
<circle cx="634.2" cy="250.5" r="3.75" fill="#1c1cf5" fill-opacity="0.55" stroke="#222" stroke-opacity="0.75" stroke-width="0.6"/>
<circle cx="642.5" cy="250.5" r="3.75" fill="#1c1cf5" fill-opacity="0.55" stroke="#222" stroke-opacity="0.75" stroke-width="0.6"/>
<circle cx="644.3" cy="250.5" r="3.75" fill="#1c1cf5" fill-opacity="0.55" stroke="#222" stroke-opacity="0.75" stroke-width="0.6"/>
<circle cx="650.3" cy="250.5" r="3.75" fill="#1c1cf5" fill-opacity="0.55" stroke="#222" stroke-opacity="0.75" stroke-width="0.6"/>
<circle cx="656.5" cy="250.5" r="3.75" fill="#1c1cf5" fill-opacity="0.55" stroke="#222" stroke-opacity="0.75" stroke-width="0.6"/>
<circle cx="657.9" cy="250.5" r="3.75" fill="#1c1cf5" fill-opacity="0.55" stroke="#222" stroke-opacity="0.75" stroke-width="0.6"/>
<line x1="550.54" x2="609.50" y1="407.70" y2="407.70" stroke="#f8ae3e" stroke-width="1.8" stroke-opacity="0.92" />
<line x1="475.50" x2="684.50" y1="402.18" y2="402.18" stroke="#000" stroke-width="1.9" stroke-opacity="1.0" stroke-dasharray="7.9 7.6"/>
</g>
<rect x="475.5" y="226.45" width="209.0" height="24.03" fill="#d9d9d9"/>
<rect x="475.5" y="226.45" width="209.0" height="24.03" fill="none" stroke="#333" stroke-width="1.2" stroke-opacity="0.72"/>
<text x="580.00" y="243.88" font-size="15.8" fill="#1a1a1a" text-anchor="middle">ORF3a</text>
<rect x="475.5" y="250.48" width="209.0" height="169.52" fill="none" stroke="#333" stroke-width="1.2" stroke-opacity="0.72"/>
<line x1="514.52" x2="514.52" y1="420.00" y2="423.40" stroke="#333" stroke-width="1.2" stroke-opacity="0.9"/>
<text x="514.52" y="435.40" font-size="13.4" fill="#4d4d4d" text-anchor="middle">Tiger</text>
<line x1="580.02" x2="580.02" y1="420.00" y2="423.40" stroke="#333" stroke-width="1.2" stroke-opacity="0.9"/>
<text x="580.02" y="435.40" font-size="13.4" fill="#4d4d4d" text-anchor="middle">Lion</text>
<line x1="645.52" x2="645.52" y1="420.00" y2="423.40" stroke="#333" stroke-width="1.2" stroke-opacity="0.9"/>
<text x="645.52" y="435.40" font-size="13.4" fill="#4d4d4d" text-anchor="middle">Hyena</text>
<rect x="47.5" y="476.0" width="208.0" height="181.5" fill="#fff"/>
<line x1="47.50" x2="255.50" y1="628.83" y2="628.83" stroke="#ebebeb" stroke-width="0.7" stroke-opacity="1.0" />
<line x1="47.50" x2="255.50" y1="587.54" y2="587.54" stroke="#ebebeb" stroke-width="0.7" stroke-opacity="1.0" />
<line x1="47.50" x2="255.50" y1="546.24" y2="546.24" stroke="#ebebeb" stroke-width="0.7" stroke-opacity="1.0" />
<line x1="47.50" x2="255.50" y1="504.95" y2="504.95" stroke="#ebebeb" stroke-width="0.7" stroke-opacity="1.0" />
<line x1="47.50" x2="255.50" y1="649.48" y2="649.48" stroke="#ebebeb" stroke-width="1.1" stroke-opacity="1.0" />
<line x1="47.50" x2="255.50" y1="608.19" y2="608.19" stroke="#ebebeb" stroke-width="1.1" stroke-opacity="1.0" />
<line x1="47.50" x2="255.50" y1="566.89" y2="566.89" stroke="#ebebeb" stroke-width="1.1" stroke-opacity="1.0" />
<line x1="47.50" x2="255.50" y1="525.60" y2="525.60" stroke="#ebebeb" stroke-width="1.1" stroke-opacity="1.0" />
<line x1="47.50" x2="255.50" y1="484.30" y2="484.30" stroke="#ebebeb" stroke-width="1.1" stroke-opacity="1.0" />
<line x1="86.30" x2="86.30" y1="476.00" y2="657.50" stroke="#ebebeb" stroke-width="1.1" stroke-opacity="1.0"/>
<line x1="151.33" x2="151.33" y1="476.00" y2="657.50" stroke="#ebebeb" stroke-width="1.1" stroke-opacity="1.0"/>
<line x1="216.36" x2="216.36" y1="476.00" y2="657.50" stroke="#ebebeb" stroke-width="1.1" stroke-opacity="1.0"/>
<clipPath id="cD1"><rect x="47.5" y="476.0" width="208.0" height="181.5"/></clipPath>
<g clip-path="url(#cD1)">
<circle cx="76.6" cy="649.5" r="3.75" fill="#f53b40" fill-opacity="0.65" stroke="#222" stroke-opacity="0.75" stroke-width="0.6"/>
<circle cx="87.1" cy="649.5" r="3.75" fill="#f53b40" fill-opacity="0.65" stroke="#222" stroke-opacity="0.75" stroke-width="0.6"/>
<circle cx="87.4" cy="649.5" r="3.75" fill="#f53b40" fill-opacity="0.65" stroke="#222" stroke-opacity="0.75" stroke-width="0.6"/>
<circle cx="142.8" cy="476.0" r="3.75" fill="#fc9d0d" fill-opacity="0.6" stroke="#222" stroke-opacity="0.75" stroke-width="0.6"/>
<circle cx="157.4" cy="476.0" r="3.75" fill="#fc9d0d" fill-opacity="0.6" stroke="#222" stroke-opacity="0.75" stroke-width="0.6"/>
<circle cx="138.6" cy="649.5" r="3.75" fill="#fc9d0d" fill-opacity="0.6" stroke="#222" stroke-opacity="0.75" stroke-width="0.6"/>
<circle cx="141.0" cy="649.5" r="3.75" fill="#fc9d0d" fill-opacity="0.6" stroke="#222" stroke-opacity="0.75" stroke-width="0.6"/>
<circle cx="145.4" cy="649.5" r="3.75" fill="#fc9d0d" fill-opacity="0.6" stroke="#222" stroke-opacity="0.75" stroke-width="0.6"/>
<circle cx="149.0" cy="649.5" r="3.75" fill="#fc9d0d" fill-opacity="0.6" stroke="#222" stroke-opacity="0.75" stroke-width="0.6"/>
<circle cx="153.3" cy="649.5" r="3.75" fill="#fc9d0d" fill-opacity="0.6" stroke="#222" stroke-opacity="0.75" stroke-width="0.6"/>
<circle cx="156.0" cy="649.5" r="3.75" fill="#fc9d0d" fill-opacity="0.6" stroke="#222" stroke-opacity="0.75" stroke-width="0.6"/>
<circle cx="159.8" cy="649.5" r="3.75" fill="#fc9d0d" fill-opacity="0.6" stroke="#222" stroke-opacity="0.75" stroke-width="0.6"/>
<circle cx="164.2" cy="649.5" r="3.75" fill="#fc9d0d" fill-opacity="0.6" stroke="#222" stroke-opacity="0.75" stroke-width="0.6"/>
<circle cx="212.2" cy="476.0" r="3.75" fill="#1c1cf5" fill-opacity="0.55" stroke="#222" stroke-opacity="0.75" stroke-width="0.6"/>
<circle cx="209.5" cy="649.5" r="3.75" fill="#1c1cf5" fill-opacity="0.55" stroke="#222" stroke-opacity="0.75" stroke-width="0.6"/>
<circle cx="212.5" cy="649.5" r="3.75" fill="#1c1cf5" fill-opacity="0.55" stroke="#222" stroke-opacity="0.75" stroke-width="0.6"/>
<circle cx="216.9" cy="649.5" r="3.75" fill="#1c1cf5" fill-opacity="0.55" stroke="#222" stroke-opacity="0.75" stroke-width="0.6"/>
<circle cx="224.2" cy="649.5" r="3.75" fill="#1c1cf5" fill-opacity="0.55" stroke="#222" stroke-opacity="0.75" stroke-width="0.6"/>
<line x1="57.04" x2="115.56" y1="649.48" y2="649.48" stroke="#ff5c61" stroke-width="1.8" stroke-opacity="0.92" />
<line x1="122.07" x2="180.59" y1="649.48" y2="649.48" stroke="#f8ae3e" stroke-width="1.8" stroke-opacity="0.92" />
<line x1="187.10" x2="245.62" y1="649.48" y2="649.48" stroke="#6a6aff" stroke-width="1.8" stroke-opacity="0.92" />
<line x1="47.50" x2="255.50" y1="484.30" y2="484.30" stroke="#000" stroke-width="1.9" stroke-opacity="1.0" stroke-dasharray="7.9 7.6"/>
</g>
<rect x="47.5" y="451.5" width="208.0" height="24.5" fill="#d9d9d9"/>
<rect x="47.5" y="451.5" width="208.0" height="24.5" fill="none" stroke="#333" stroke-width="1.2" stroke-opacity="0.72"/>
<text x="151.50" y="470.00" font-size="15.8" fill="#1a1a1a" text-anchor="middle">E</text>
<rect x="47.5" y="476.0" width="208.0" height="181.5" fill="none" stroke="#333" stroke-width="1.2" stroke-opacity="0.72"/>
<line x1="44.00" x2="47.50" y1="649.48" y2="649.48" stroke="#333" stroke-width="1.2" stroke-opacity="0.9" />
<text x="41.50" y="654.28" font-size="13.4" fill="#4d4d4d" text-anchor="end">0.0</text>
<line x1="44.00" x2="47.50" y1="608.19" y2="608.19" stroke="#333" stroke-width="1.2" stroke-opacity="0.9" />
<text x="41.50" y="612.99" font-size="13.4" fill="#4d4d4d" text-anchor="end">0.2</text>
<line x1="44.00" x2="47.50" y1="566.89" y2="566.89" stroke="#333" stroke-width="1.2" stroke-opacity="0.9" />
<text x="41.50" y="571.69" font-size="13.4" fill="#4d4d4d" text-anchor="end">0.5</text>
<line x1="44.00" x2="47.50" y1="525.60" y2="525.60" stroke="#333" stroke-width="1.2" stroke-opacity="0.9" />
<text x="41.50" y="530.39" font-size="13.4" fill="#4d4d4d" text-anchor="end">0.8</text>
<line x1="44.00" x2="47.50" y1="484.30" y2="484.30" stroke="#333" stroke-width="1.2" stroke-opacity="0.9" />
<text x="41.50" y="489.10" font-size="13.4" fill="#4d4d4d" text-anchor="end">1.0</text>
<rect x="262.0" y="476.0" width="207.8" height="181.5" fill="#fff"/>
<line x1="262.00" x2="469.80" y1="628.83" y2="628.83" stroke="#ebebeb" stroke-width="0.7" stroke-opacity="1.0" />
<line x1="262.00" x2="469.80" y1="587.54" y2="587.54" stroke="#ebebeb" stroke-width="0.7" stroke-opacity="1.0" />
<line x1="262.00" x2="469.80" y1="546.24" y2="546.24" stroke="#ebebeb" stroke-width="0.7" stroke-opacity="1.0" />
<line x1="262.00" x2="469.80" y1="504.95" y2="504.95" stroke="#ebebeb" stroke-width="0.7" stroke-opacity="1.0" />
<line x1="262.00" x2="469.80" y1="649.48" y2="649.48" stroke="#ebebeb" stroke-width="1.1" stroke-opacity="1.0" />
<line x1="262.00" x2="469.80" y1="608.19" y2="608.19" stroke="#ebebeb" stroke-width="1.1" stroke-opacity="1.0" />
<line x1="262.00" x2="469.80" y1="566.89" y2="566.89" stroke="#ebebeb" stroke-width="1.1" stroke-opacity="1.0" />
<line x1="262.00" x2="469.80" y1="525.60" y2="525.60" stroke="#ebebeb" stroke-width="1.1" stroke-opacity="1.0" />
<line x1="262.00" x2="469.80" y1="484.30" y2="484.30" stroke="#ebebeb" stroke-width="1.1" stroke-opacity="1.0" />
<line x1="300.94" x2="300.94" y1="476.00" y2="657.50" stroke="#ebebeb" stroke-width="1.1" stroke-opacity="1.0"/>
<line x1="365.97" x2="365.97" y1="476.00" y2="657.50" stroke="#ebebeb" stroke-width="1.1" stroke-opacity="1.0"/>
<line x1="431.00" x2="431.00" y1="476.00" y2="657.50" stroke="#ebebeb" stroke-width="1.1" stroke-opacity="1.0"/>
<clipPath id="cD2"><rect x="262.0" y="476.0" width="207.8" height="181.5"/></clipPath>
<g clip-path="url(#cD2)">
<circle cx="299.0" cy="476.0" r="3.75" fill="#f53b40" fill-opacity="0.65" stroke="#222" stroke-opacity="0.75" stroke-width="0.6"/>
<circle cx="311.5" cy="476.0" r="3.75" fill="#f53b40" fill-opacity="0.65" stroke="#222" stroke-opacity="0.75" stroke-width="0.6"/>
<circle cx="296.3" cy="617.9" r="3.75" fill="#f53b40" fill-opacity="0.65" stroke="#222" stroke-opacity="0.75" stroke-width="0.6"/>
<circle cx="353.5" cy="476.0" r="3.75" fill="#fc9d0d" fill-opacity="0.6" stroke="#222" stroke-opacity="0.75" stroke-width="0.6"/>
<circle cx="354.5" cy="476.0" r="3.75" fill="#fc9d0d" fill-opacity="0.6" stroke="#222" stroke-opacity="0.75" stroke-width="0.6"/>
<circle cx="362.6" cy="476.0" r="3.75" fill="#fc9d0d" fill-opacity="0.6" stroke="#222" stroke-opacity="0.75" stroke-width="0.6"/>
<circle cx="363.5" cy="476.0" r="3.75" fill="#fc9d0d" fill-opacity="0.6" stroke="#222" stroke-opacity="0.75" stroke-width="0.6"/>
<circle cx="368.8" cy="476.0" r="3.75" fill="#fc9d0d" fill-opacity="0.6" stroke="#222" stroke-opacity="0.75" stroke-width="0.6"/>
<circle cx="372.5" cy="476.0" r="3.75" fill="#fc9d0d" fill-opacity="0.6" stroke="#222" stroke-opacity="0.75" stroke-width="0.6"/>
<circle cx="378.7" cy="476.0" r="3.75" fill="#fc9d0d" fill-opacity="0.6" stroke="#222" stroke-opacity="0.75" stroke-width="0.6"/>
<circle cx="364.0" cy="539.2" r="3.75" fill="#fc9d0d" fill-opacity="0.6" stroke="#222" stroke-opacity="0.75" stroke-width="0.6"/>
<circle cx="356.7" cy="596.0" r="3.75" fill="#fc9d0d" fill-opacity="0.6" stroke="#222" stroke-opacity="0.75" stroke-width="0.6"/>
<circle cx="377.7" cy="607.0" r="3.75" fill="#fc9d0d" fill-opacity="0.6" stroke="#222" stroke-opacity="0.75" stroke-width="0.6"/>
<circle cx="355.5" cy="648.3" r="3.75" fill="#fc9d0d" fill-opacity="0.6" stroke="#222" stroke-opacity="0.75" stroke-width="0.6"/>
<circle cx="359.2" cy="649.8" r="3.75" fill="#fc9d0d" fill-opacity="0.6" stroke="#222" stroke-opacity="0.75" stroke-width="0.6"/>
<circle cx="418.4" cy="476.0" r="3.75" fill="#1c1cf5" fill-opacity="0.55" stroke="#222" stroke-opacity="0.75" stroke-width="0.6"/>
<circle cx="426.0" cy="476.0" r="3.75" fill="#1c1cf5" fill-opacity="0.55" stroke="#222" stroke-opacity="0.75" stroke-width="0.6"/>
<circle cx="442.1" cy="476.0" r="3.75" fill="#1c1cf5" fill-opacity="0.55" stroke="#222" stroke-opacity="0.75" stroke-width="0.6"/>
<circle cx="443.0" cy="649.5" r="3.75" fill="#1c1cf5" fill-opacity="0.55" stroke="#222" stroke-opacity="0.75" stroke-width="0.6"/>
<line x1="271.68" x2="330.20" y1="617.90" y2="617.90" stroke="#ff5c61" stroke-width="1.8" stroke-opacity="0.92" />
<line x1="336.71" x2="395.23" y1="608.20" y2="608.20" stroke="#f8ae3e" stroke-width="1.8" stroke-opacity="0.92" />
<line x1="401.74" x2="460.26" y1="649.50" y2="649.50" stroke="#6a6aff" stroke-width="1.8" stroke-opacity="0.92" />
<line x1="262.00" x2="469.80" y1="484.30" y2="484.30" stroke="#000" stroke-width="1.9" stroke-opacity="1.0" stroke-dasharray="7.9 7.6"/>
</g>
<rect x="262.0" y="451.5" width="207.8" height="24.5" fill="#d9d9d9"/>
<rect x="262.0" y="451.5" width="207.8" height="24.5" fill="none" stroke="#333" stroke-width="1.2" stroke-opacity="0.72"/>
<text x="365.90" y="470.00" font-size="15.8" fill="#1a1a1a" text-anchor="middle">M</text>
<rect x="262.0" y="476.0" width="207.8" height="181.5" fill="none" stroke="#333" stroke-width="1.2" stroke-opacity="0.72"/>
<rect x="476.4" y="476.0" width="208.10000000000002" height="181.5" fill="#fff"/>
<line x1="476.40" x2="684.50" y1="628.83" y2="628.83" stroke="#ebebeb" stroke-width="0.7" stroke-opacity="1.0" />
<line x1="476.40" x2="684.50" y1="587.54" y2="587.54" stroke="#ebebeb" stroke-width="0.7" stroke-opacity="1.0" />
<line x1="476.40" x2="684.50" y1="546.24" y2="546.24" stroke="#ebebeb" stroke-width="0.7" stroke-opacity="1.0" />
<line x1="476.40" x2="684.50" y1="504.95" y2="504.95" stroke="#ebebeb" stroke-width="0.7" stroke-opacity="1.0" />
<line x1="476.40" x2="684.50" y1="649.48" y2="649.48" stroke="#ebebeb" stroke-width="1.1" stroke-opacity="1.0" />
<line x1="476.40" x2="684.50" y1="608.19" y2="608.19" stroke="#ebebeb" stroke-width="1.1" stroke-opacity="1.0" />
<line x1="476.40" x2="684.50" y1="566.89" y2="566.89" stroke="#ebebeb" stroke-width="1.1" stroke-opacity="1.0" />
<line x1="476.40" x2="684.50" y1="525.60" y2="525.60" stroke="#ebebeb" stroke-width="1.1" stroke-opacity="1.0" />
<line x1="476.40" x2="684.50" y1="484.30" y2="484.30" stroke="#ebebeb" stroke-width="1.1" stroke-opacity="1.0" />
<line x1="515.58" x2="515.58" y1="476.00" y2="657.50" stroke="#ebebeb" stroke-width="1.1" stroke-opacity="1.0"/>
<line x1="580.61" x2="580.61" y1="476.00" y2="657.50" stroke="#ebebeb" stroke-width="1.1" stroke-opacity="1.0"/>
<line x1="645.64" x2="645.64" y1="476.00" y2="657.50" stroke="#ebebeb" stroke-width="1.1" stroke-opacity="1.0"/>
<clipPath id="cD3"><rect x="476.4" y="476.0" width="208.10000000000002" height="181.5"/></clipPath>
<g clip-path="url(#cD3)">
<circle cx="505.3" cy="476.0" r="3.75" fill="#f53b40" fill-opacity="0.65" stroke="#222" stroke-opacity="0.75" stroke-width="0.6"/>
<circle cx="502.3" cy="649.5" r="3.75" fill="#f53b40" fill-opacity="0.65" stroke="#222" stroke-opacity="0.75" stroke-width="0.6"/>
<circle cx="512.3" cy="649.5" r="3.75" fill="#f53b40" fill-opacity="0.65" stroke="#222" stroke-opacity="0.75" stroke-width="0.6"/>
<circle cx="577.1" cy="476.0" r="3.75" fill="#fc9d0d" fill-opacity="0.6" stroke="#222" stroke-opacity="0.75" stroke-width="0.6"/>
<circle cx="588.1" cy="476.0" r="3.75" fill="#fc9d0d" fill-opacity="0.6" stroke="#222" stroke-opacity="0.75" stroke-width="0.6"/>
<circle cx="593.4" cy="607.3" r="3.75" fill="#fc9d0d" fill-opacity="0.6" stroke="#222" stroke-opacity="0.75" stroke-width="0.6"/>
<circle cx="583.4" cy="626.2" r="3.75" fill="#fc9d0d" fill-opacity="0.6" stroke="#222" stroke-opacity="0.75" stroke-width="0.6"/>
<circle cx="568.5" cy="649.5" r="3.75" fill="#fc9d0d" fill-opacity="0.6" stroke="#222" stroke-opacity="0.75" stroke-width="0.6"/>
<circle cx="571.0" cy="649.5" r="3.75" fill="#fc9d0d" fill-opacity="0.6" stroke="#222" stroke-opacity="0.75" stroke-width="0.6"/>
<circle cx="575.4" cy="649.5" r="3.75" fill="#fc9d0d" fill-opacity="0.6" stroke="#222" stroke-opacity="0.75" stroke-width="0.6"/>
<circle cx="578.0" cy="649.5" r="3.75" fill="#fc9d0d" fill-opacity="0.6" stroke="#222" stroke-opacity="0.75" stroke-width="0.6"/>
<circle cx="581.4" cy="649.5" r="3.75" fill="#fc9d0d" fill-opacity="0.6" stroke="#222" stroke-opacity="0.75" stroke-width="0.6"/>
<circle cx="585.0" cy="649.5" r="3.75" fill="#fc9d0d" fill-opacity="0.6" stroke="#222" stroke-opacity="0.75" stroke-width="0.6"/>
<circle cx="589.3" cy="649.5" r="3.75" fill="#fc9d0d" fill-opacity="0.6" stroke="#222" stroke-opacity="0.75" stroke-width="0.6"/>
<circle cx="593.5" cy="649.5" r="3.75" fill="#fc9d0d" fill-opacity="0.6" stroke="#222" stroke-opacity="0.75" stroke-width="0.6"/>
<circle cx="634.5" cy="476.0" r="3.75" fill="#1c1cf5" fill-opacity="0.55" stroke="#222" stroke-opacity="0.75" stroke-width="0.6"/>
<circle cx="635.3" cy="649.5" r="3.75" fill="#1c1cf5" fill-opacity="0.55" stroke="#222" stroke-opacity="0.75" stroke-width="0.6"/>
<circle cx="643.2" cy="649.5" r="3.75" fill="#1c1cf5" fill-opacity="0.55" stroke="#222" stroke-opacity="0.75" stroke-width="0.6"/>
<circle cx="646.9" cy="649.5" r="3.75" fill="#1c1cf5" fill-opacity="0.55" stroke="#222" stroke-opacity="0.75" stroke-width="0.6"/>
<circle cx="656.3" cy="649.5" r="3.75" fill="#1c1cf5" fill-opacity="0.55" stroke="#222" stroke-opacity="0.75" stroke-width="0.6"/>
<line x1="486.32" x2="544.84" y1="649.48" y2="649.48" stroke="#ff5c61" stroke-width="1.8" stroke-opacity="0.92" />
<line x1="551.35" x2="609.87" y1="647.90" y2="647.90" stroke="#f8ae3e" stroke-width="1.8" stroke-opacity="0.92" />
<line x1="616.38" x2="674.90" y1="649.48" y2="649.48" stroke="#6a6aff" stroke-width="1.8" stroke-opacity="0.92" />
<line x1="476.40" x2="684.50" y1="484.30" y2="484.30" stroke="#000" stroke-width="1.9" stroke-opacity="1.0" stroke-dasharray="7.9 7.6"/>
</g>
<rect x="476.4" y="451.5" width="208.10000000000002" height="24.5" fill="#d9d9d9"/>
<rect x="476.4" y="451.5" width="208.10000000000002" height="24.5" fill="none" stroke="#333" stroke-width="1.2" stroke-opacity="0.72"/>
<text x="580.45" y="470.00" font-size="15.8" fill="#1a1a1a" text-anchor="middle">ORF6</text>
<rect x="476.4" y="476.0" width="208.10000000000002" height="181.5" fill="none" stroke="#333" stroke-width="1.2" stroke-opacity="0.72"/>
<rect x="47.5" y="689.0" width="208.0" height="181.39999999999998" fill="#fff"/>
<line x1="47.50" x2="255.50" y1="841.82" y2="841.82" stroke="#ebebeb" stroke-width="0.7" stroke-opacity="1.0" />
<line x1="47.50" x2="255.50" y1="800.51" y2="800.51" stroke="#ebebeb" stroke-width="0.7" stroke-opacity="1.0" />
<line x1="47.50" x2="255.50" y1="759.19" y2="759.19" stroke="#ebebeb" stroke-width="0.7" stroke-opacity="1.0" />
<line x1="47.50" x2="255.50" y1="717.88" y2="717.88" stroke="#ebebeb" stroke-width="0.7" stroke-opacity="1.0" />
<line x1="47.50" x2="255.50" y1="862.48" y2="862.48" stroke="#ebebeb" stroke-width="1.1" stroke-opacity="1.0" />
<line x1="47.50" x2="255.50" y1="821.16" y2="821.16" stroke="#ebebeb" stroke-width="1.1" stroke-opacity="1.0" />
<line x1="47.50" x2="255.50" y1="779.85" y2="779.85" stroke="#ebebeb" stroke-width="1.1" stroke-opacity="1.0" />
<line x1="47.50" x2="255.50" y1="738.54" y2="738.54" stroke="#ebebeb" stroke-width="1.1" stroke-opacity="1.0" />
<line x1="47.50" x2="255.50" y1="697.22" y2="697.22" stroke="#ebebeb" stroke-width="1.1" stroke-opacity="1.0" />
<line x1="86.30" x2="86.30" y1="689.00" y2="870.40" stroke="#ebebeb" stroke-width="1.1" stroke-opacity="1.0"/>
<line x1="151.33" x2="151.33" y1="689.00" y2="870.40" stroke="#ebebeb" stroke-width="1.1" stroke-opacity="1.0"/>
<line x1="216.36" x2="216.36" y1="689.00" y2="870.40" stroke="#ebebeb" stroke-width="1.1" stroke-opacity="1.0"/>
<clipPath id="cD4"><rect x="47.5" y="689.0" width="208.0" height="181.39999999999998"/></clipPath>
<g clip-path="url(#cD4)">
<circle cx="80.2" cy="689.0" r="3.75" fill="#f53b40" fill-opacity="0.65" stroke="#222" stroke-opacity="0.75" stroke-width="0.6"/>
<circle cx="87.9" cy="689.0" r="3.75" fill="#f53b40" fill-opacity="0.65" stroke="#222" stroke-opacity="0.75" stroke-width="0.6"/>
<circle cx="95.2" cy="689.0" r="3.75" fill="#f53b40" fill-opacity="0.65" stroke="#222" stroke-opacity="0.75" stroke-width="0.6"/>
<circle cx="141.2" cy="689.0" r="3.75" fill="#fc9d0d" fill-opacity="0.6" stroke="#222" stroke-opacity="0.75" stroke-width="0.6"/>
<circle cx="142.2" cy="689.0" r="3.75" fill="#fc9d0d" fill-opacity="0.6" stroke="#222" stroke-opacity="0.75" stroke-width="0.6"/>
<circle cx="147.5" cy="689.0" r="3.75" fill="#fc9d0d" fill-opacity="0.6" stroke="#222" stroke-opacity="0.75" stroke-width="0.6"/>
<circle cx="148.5" cy="689.0" r="3.75" fill="#fc9d0d" fill-opacity="0.6" stroke="#222" stroke-opacity="0.75" stroke-width="0.6"/>
<circle cx="153.4" cy="689.0" r="3.75" fill="#fc9d0d" fill-opacity="0.6" stroke="#222" stroke-opacity="0.75" stroke-width="0.6"/>
<circle cx="154.4" cy="689.0" r="3.75" fill="#fc9d0d" fill-opacity="0.6" stroke="#222" stroke-opacity="0.75" stroke-width="0.6"/>
<circle cx="159.2" cy="689.0" r="3.75" fill="#fc9d0d" fill-opacity="0.6" stroke="#222" stroke-opacity="0.75" stroke-width="0.6"/>
<circle cx="162.8" cy="689.0" r="3.75" fill="#fc9d0d" fill-opacity="0.6" stroke="#222" stroke-opacity="0.75" stroke-width="0.6"/>
<circle cx="143.0" cy="862.5" r="3.75" fill="#fc9d0d" fill-opacity="0.6" stroke="#222" stroke-opacity="0.75" stroke-width="0.6"/>
<circle cx="146.5" cy="860.8" r="3.75" fill="#fc9d0d" fill-opacity="0.6" stroke="#222" stroke-opacity="0.75" stroke-width="0.6"/>
<circle cx="155.3" cy="861.3" r="3.75" fill="#fc9d0d" fill-opacity="0.6" stroke="#222" stroke-opacity="0.75" stroke-width="0.6"/>
<circle cx="157.6" cy="862.5" r="3.75" fill="#fc9d0d" fill-opacity="0.6" stroke="#222" stroke-opacity="0.75" stroke-width="0.6"/>
<circle cx="159.4" cy="860.8" r="3.75" fill="#fc9d0d" fill-opacity="0.6" stroke="#222" stroke-opacity="0.75" stroke-width="0.6"/>
<circle cx="161.7" cy="863.1" r="3.75" fill="#fc9d0d" fill-opacity="0.6" stroke="#222" stroke-opacity="0.75" stroke-width="0.6"/>
<circle cx="203.5" cy="689.0" r="3.75" fill="#1c1cf5" fill-opacity="0.55" stroke="#222" stroke-opacity="0.75" stroke-width="0.6"/>
<circle cx="206.0" cy="689.0" r="3.75" fill="#1c1cf5" fill-opacity="0.55" stroke="#222" stroke-opacity="0.75" stroke-width="0.6"/>
<circle cx="209.5" cy="689.0" r="3.75" fill="#1c1cf5" fill-opacity="0.55" stroke="#222" stroke-opacity="0.75" stroke-width="0.6"/>
<circle cx="219.5" cy="689.0" r="3.75" fill="#1c1cf5" fill-opacity="0.55" stroke="#222" stroke-opacity="0.75" stroke-width="0.6"/>
<circle cx="227.1" cy="689.0" r="3.75" fill="#1c1cf5" fill-opacity="0.55" stroke="#222" stroke-opacity="0.75" stroke-width="0.6"/>
<line x1="122.07" x2="180.59" y1="861.90" y2="861.90" stroke="#f8ae3e" stroke-width="1.8" stroke-opacity="0.92" />
<line x1="47.50" x2="255.50" y1="697.22" y2="697.22" stroke="#000" stroke-width="1.9" stroke-opacity="1.0" stroke-dasharray="7.9 7.6"/>
</g>
<rect x="47.5" y="664.5" width="208.0" height="24.5" fill="#d9d9d9"/>
<rect x="47.5" y="664.5" width="208.0" height="24.5" fill="none" stroke="#333" stroke-width="1.2" stroke-opacity="0.72"/>
<text x="151.50" y="683.00" font-size="15.8" fill="#1a1a1a" text-anchor="middle">ORF7a</text>
<rect x="47.5" y="689.0" width="208.0" height="181.39999999999998" fill="none" stroke="#333" stroke-width="1.2" stroke-opacity="0.72"/>
<line x1="44.00" x2="47.50" y1="862.48" y2="862.48" stroke="#333" stroke-width="1.2" stroke-opacity="0.9" />
<text x="41.50" y="867.28" font-size="13.4" fill="#4d4d4d" text-anchor="end">0.0</text>
<line x1="44.00" x2="47.50" y1="821.16" y2="821.16" stroke="#333" stroke-width="1.2" stroke-opacity="0.9" />
<text x="41.50" y="825.96" font-size="13.4" fill="#4d4d4d" text-anchor="end">0.2</text>
<line x1="44.00" x2="47.50" y1="779.85" y2="779.85" stroke="#333" stroke-width="1.2" stroke-opacity="0.9" />
<text x="41.50" y="784.65" font-size="13.4" fill="#4d4d4d" text-anchor="end">0.5</text>
<line x1="44.00" x2="47.50" y1="738.54" y2="738.54" stroke="#333" stroke-width="1.2" stroke-opacity="0.9" />
<text x="41.50" y="743.34" font-size="13.4" fill="#4d4d4d" text-anchor="end">0.8</text>
<line x1="44.00" x2="47.50" y1="697.22" y2="697.22" stroke="#333" stroke-width="1.2" stroke-opacity="0.9" />
<text x="41.50" y="702.02" font-size="13.4" fill="#4d4d4d" text-anchor="end">1.0</text>
<line x1="86.30" x2="86.30" y1="870.40" y2="873.80" stroke="#333" stroke-width="1.2" stroke-opacity="0.9"/>
<text x="86.30" y="885.80" font-size="13.4" fill="#4d4d4d" text-anchor="middle">Tiger</text>
<line x1="151.33" x2="151.33" y1="870.40" y2="873.80" stroke="#333" stroke-width="1.2" stroke-opacity="0.9"/>
<text x="151.33" y="885.80" font-size="13.4" fill="#4d4d4d" text-anchor="middle">Lion</text>
<line x1="216.36" x2="216.36" y1="870.40" y2="873.80" stroke="#333" stroke-width="1.2" stroke-opacity="0.9"/>
<text x="216.36" y="885.80" font-size="13.4" fill="#4d4d4d" text-anchor="middle">Hyena</text>
<rect x="262.0" y="689.0" width="207.8" height="181.39999999999998" fill="#fff"/>
<line x1="262.00" x2="469.80" y1="841.82" y2="841.82" stroke="#ebebeb" stroke-width="0.7" stroke-opacity="1.0" />
<line x1="262.00" x2="469.80" y1="800.51" y2="800.51" stroke="#ebebeb" stroke-width="0.7" stroke-opacity="1.0" />
<line x1="262.00" x2="469.80" y1="759.19" y2="759.19" stroke="#ebebeb" stroke-width="0.7" stroke-opacity="1.0" />
<line x1="262.00" x2="469.80" y1="717.88" y2="717.88" stroke="#ebebeb" stroke-width="0.7" stroke-opacity="1.0" />
<line x1="262.00" x2="469.80" y1="862.48" y2="862.48" stroke="#ebebeb" stroke-width="1.1" stroke-opacity="1.0" />
<line x1="262.00" x2="469.80" y1="821.16" y2="821.16" stroke="#ebebeb" stroke-width="1.1" stroke-opacity="1.0" />
<line x1="262.00" x2="469.80" y1="779.85" y2="779.85" stroke="#ebebeb" stroke-width="1.1" stroke-opacity="1.0" />
<line x1="262.00" x2="469.80" y1="738.54" y2="738.54" stroke="#ebebeb" stroke-width="1.1" stroke-opacity="1.0" />
<line x1="262.00" x2="469.80" y1="697.22" y2="697.22" stroke="#ebebeb" stroke-width="1.1" stroke-opacity="1.0" />
<line x1="300.94" x2="300.94" y1="689.00" y2="870.40" stroke="#ebebeb" stroke-width="1.1" stroke-opacity="1.0"/>
<line x1="365.97" x2="365.97" y1="689.00" y2="870.40" stroke="#ebebeb" stroke-width="1.1" stroke-opacity="1.0"/>
<line x1="431.00" x2="431.00" y1="689.00" y2="870.40" stroke="#ebebeb" stroke-width="1.1" stroke-opacity="1.0"/>
<clipPath id="cD5"><rect x="262.0" y="689.0" width="207.8" height="181.39999999999998"/></clipPath>
<g clip-path="url(#cD5)">
<circle cx="288.4" cy="862.5" r="3.75" fill="#f53b40" fill-opacity="0.65" stroke="#222" stroke-opacity="0.75" stroke-width="0.6"/>
<circle cx="296.3" cy="862.5" r="3.75" fill="#f53b40" fill-opacity="0.65" stroke="#222" stroke-opacity="0.75" stroke-width="0.6"/>
<circle cx="299.4" cy="862.5" r="3.75" fill="#f53b40" fill-opacity="0.65" stroke="#222" stroke-opacity="0.75" stroke-width="0.6"/>
<circle cx="355.5" cy="689.0" r="3.75" fill="#fc9d0d" fill-opacity="0.6" stroke="#222" stroke-opacity="0.75" stroke-width="0.6"/>
<circle cx="367.7" cy="689.0" r="3.75" fill="#fc9d0d" fill-opacity="0.6" stroke="#222" stroke-opacity="0.75" stroke-width="0.6"/>
<circle cx="374.4" cy="689.0" r="3.75" fill="#fc9d0d" fill-opacity="0.6" stroke="#222" stroke-opacity="0.75" stroke-width="0.6"/>
<circle cx="359.8" cy="824.6" r="3.75" fill="#fc9d0d" fill-opacity="0.6" stroke="#222" stroke-opacity="0.75" stroke-width="0.6"/>
<circle cx="356.4" cy="834.9" r="3.75" fill="#fc9d0d" fill-opacity="0.6" stroke="#222" stroke-opacity="0.75" stroke-width="0.6"/>
<circle cx="352.5" cy="862.5" r="3.75" fill="#fc9d0d" fill-opacity="0.6" stroke="#222" stroke-opacity="0.75" stroke-width="0.6"/>
<circle cx="355.0" cy="862.5" r="3.75" fill="#fc9d0d" fill-opacity="0.6" stroke="#222" stroke-opacity="0.75" stroke-width="0.6"/>
<circle cx="358.0" cy="862.5" r="3.75" fill="#fc9d0d" fill-opacity="0.6" stroke="#222" stroke-opacity="0.75" stroke-width="0.6"/>
<circle cx="360.6" cy="862.5" r="3.75" fill="#fc9d0d" fill-opacity="0.6" stroke="#222" stroke-opacity="0.75" stroke-width="0.6"/>
<circle cx="364.0" cy="862.5" r="3.75" fill="#fc9d0d" fill-opacity="0.6" stroke="#222" stroke-opacity="0.75" stroke-width="0.6"/>
<circle cx="368.5" cy="862.5" r="3.75" fill="#fc9d0d" fill-opacity="0.6" stroke="#222" stroke-opacity="0.75" stroke-width="0.6"/>
<circle cx="372.0" cy="862.5" r="3.75" fill="#fc9d0d" fill-opacity="0.6" stroke="#222" stroke-opacity="0.75" stroke-width="0.6"/>
<circle cx="376.4" cy="862.5" r="3.75" fill="#fc9d0d" fill-opacity="0.6" stroke="#222" stroke-opacity="0.75" stroke-width="0.6"/>
<circle cx="379.4" cy="862.5" r="3.75" fill="#fc9d0d" fill-opacity="0.6" stroke="#222" stroke-opacity="0.75" stroke-width="0.6"/>
<circle cx="421.9" cy="862.5" r="3.75" fill="#1c1cf5" fill-opacity="0.55" stroke="#222" stroke-opacity="0.75" stroke-width="0.6"/>
<circle cx="429.0" cy="862.5" r="3.75" fill="#1c1cf5" fill-opacity="0.55" stroke="#222" stroke-opacity="0.75" stroke-width="0.6"/>
<circle cx="435.5" cy="862.5" r="3.75" fill="#1c1cf5" fill-opacity="0.55" stroke="#222" stroke-opacity="0.75" stroke-width="0.6"/>
<circle cx="439.5" cy="862.5" r="3.75" fill="#1c1cf5" fill-opacity="0.55" stroke="#222" stroke-opacity="0.75" stroke-width="0.6"/>
<line x1="271.68" x2="330.20" y1="862.48" y2="862.48" stroke="#ff5c61" stroke-width="1.8" stroke-opacity="0.92" />
<line x1="336.71" x2="395.23" y1="860.70" y2="860.70" stroke="#f8ae3e" stroke-width="1.8" stroke-opacity="0.92" />
<line x1="401.74" x2="460.26" y1="862.48" y2="862.48" stroke="#6a6aff" stroke-width="1.8" stroke-opacity="0.92" />
<line x1="262.00" x2="469.80" y1="697.22" y2="697.22" stroke="#000" stroke-width="1.9" stroke-opacity="1.0" stroke-dasharray="7.9 7.6"/>
</g>
<rect x="262.0" y="664.5" width="207.8" height="24.5" fill="#d9d9d9"/>
<rect x="262.0" y="664.5" width="207.8" height="24.5" fill="none" stroke="#333" stroke-width="1.2" stroke-opacity="0.72"/>
<text x="365.90" y="683.00" font-size="15.8" fill="#1a1a1a" text-anchor="middle">ORF8</text>
<rect x="262.0" y="689.0" width="207.8" height="181.39999999999998" fill="none" stroke="#333" stroke-width="1.2" stroke-opacity="0.72"/>
<line x1="300.94" x2="300.94" y1="870.40" y2="873.80" stroke="#333" stroke-width="1.2" stroke-opacity="0.9"/>
<text x="300.94" y="885.80" font-size="13.4" fill="#4d4d4d" text-anchor="middle">Tiger</text>
<line x1="365.97" x2="365.97" y1="870.40" y2="873.80" stroke="#333" stroke-width="1.2" stroke-opacity="0.9"/>
<text x="365.97" y="885.80" font-size="13.4" fill="#4d4d4d" text-anchor="middle">Lion</text>
<line x1="431.00" x2="431.00" y1="870.40" y2="873.80" stroke="#333" stroke-width="1.2" stroke-opacity="0.9"/>
<text x="431.00" y="885.80" font-size="13.4" fill="#4d4d4d" text-anchor="middle">Hyena</text>
<rect x="476.4" y="689.0" width="208.10000000000002" height="181.39999999999998" fill="#fff"/>
<line x1="476.40" x2="684.50" y1="841.82" y2="841.82" stroke="#ebebeb" stroke-width="0.7" stroke-opacity="1.0" />
<line x1="476.40" x2="684.50" y1="800.51" y2="800.51" stroke="#ebebeb" stroke-width="0.7" stroke-opacity="1.0" />
<line x1="476.40" x2="684.50" y1="759.19" y2="759.19" stroke="#ebebeb" stroke-width="0.7" stroke-opacity="1.0" />
<line x1="476.40" x2="684.50" y1="717.88" y2="717.88" stroke="#ebebeb" stroke-width="0.7" stroke-opacity="1.0" />
<line x1="476.40" x2="684.50" y1="862.48" y2="862.48" stroke="#ebebeb" stroke-width="1.1" stroke-opacity="1.0" />
<line x1="476.40" x2="684.50" y1="821.16" y2="821.16" stroke="#ebebeb" stroke-width="1.1" stroke-opacity="1.0" />
<line x1="476.40" x2="684.50" y1="779.85" y2="779.85" stroke="#ebebeb" stroke-width="1.1" stroke-opacity="1.0" />
<line x1="476.40" x2="684.50" y1="738.54" y2="738.54" stroke="#ebebeb" stroke-width="1.1" stroke-opacity="1.0" />
<line x1="476.40" x2="684.50" y1="697.22" y2="697.22" stroke="#ebebeb" stroke-width="1.1" stroke-opacity="1.0" />
<line x1="515.58" x2="515.58" y1="689.00" y2="870.40" stroke="#ebebeb" stroke-width="1.1" stroke-opacity="1.0"/>
<line x1="580.61" x2="580.61" y1="689.00" y2="870.40" stroke="#ebebeb" stroke-width="1.1" stroke-opacity="1.0"/>
<line x1="645.64" x2="645.64" y1="689.00" y2="870.40" stroke="#ebebeb" stroke-width="1.1" stroke-opacity="1.0"/>
<clipPath id="cD6"><rect x="476.4" y="689.0" width="208.10000000000002" height="181.39999999999998"/></clipPath>
<g clip-path="url(#cD6)">
<circle cx="525.4" cy="689.0" r="3.75" fill="#f53b40" fill-opacity="0.65" stroke="#222" stroke-opacity="0.75" stroke-width="0.6"/>
<circle cx="503.5" cy="862.5" r="3.75" fill="#f53b40" fill-opacity="0.65" stroke="#222" stroke-opacity="0.75" stroke-width="0.6"/>
<circle cx="516.6" cy="862.5" r="3.75" fill="#f53b40" fill-opacity="0.65" stroke="#222" stroke-opacity="0.75" stroke-width="0.6"/>
<circle cx="576.1" cy="689.0" r="3.75" fill="#fc9d0d" fill-opacity="0.6" stroke="#222" stroke-opacity="0.75" stroke-width="0.6"/>
<circle cx="568.3" cy="862.5" r="3.75" fill="#fc9d0d" fill-opacity="0.6" stroke="#222" stroke-opacity="0.75" stroke-width="0.6"/>
<circle cx="571.0" cy="862.5" r="3.75" fill="#fc9d0d" fill-opacity="0.6" stroke="#222" stroke-opacity="0.75" stroke-width="0.6"/>
<circle cx="575.0" cy="862.5" r="3.75" fill="#fc9d0d" fill-opacity="0.6" stroke="#222" stroke-opacity="0.75" stroke-width="0.6"/>
<circle cx="579.3" cy="862.5" r="3.75" fill="#fc9d0d" fill-opacity="0.6" stroke="#222" stroke-opacity="0.75" stroke-width="0.6"/>
<circle cx="583.0" cy="862.5" r="3.75" fill="#fc9d0d" fill-opacity="0.6" stroke="#222" stroke-opacity="0.75" stroke-width="0.6"/>
<circle cx="586.5" cy="862.5" r="3.75" fill="#fc9d0d" fill-opacity="0.6" stroke="#222" stroke-opacity="0.75" stroke-width="0.6"/>
<circle cx="589.8" cy="862.5" r="3.75" fill="#fc9d0d" fill-opacity="0.6" stroke="#222" stroke-opacity="0.75" stroke-width="0.6"/>
<circle cx="592.3" cy="862.5" r="3.75" fill="#fc9d0d" fill-opacity="0.6" stroke="#222" stroke-opacity="0.75" stroke-width="0.6"/>
<circle cx="645.0" cy="862.5" r="3.75" fill="#1c1cf5" fill-opacity="0.55" stroke="#222" stroke-opacity="0.75" stroke-width="0.6"/>
<circle cx="650.8" cy="862.5" r="3.75" fill="#1c1cf5" fill-opacity="0.55" stroke="#222" stroke-opacity="0.75" stroke-width="0.6"/>
<circle cx="654.2" cy="862.5" r="3.75" fill="#1c1cf5" fill-opacity="0.55" stroke="#222" stroke-opacity="0.75" stroke-width="0.6"/>
<line x1="486.32" x2="544.84" y1="862.48" y2="862.48" stroke="#ff5c61" stroke-width="1.8" stroke-opacity="0.92" />
<line x1="551.35" x2="609.87" y1="862.48" y2="862.48" stroke="#f8ae3e" stroke-width="1.8" stroke-opacity="0.92" />
<line x1="616.38" x2="674.90" y1="862.48" y2="862.48" stroke="#6a6aff" stroke-width="1.8" stroke-opacity="0.92" />
<line x1="476.40" x2="684.50" y1="697.22" y2="697.22" stroke="#000" stroke-width="1.9" stroke-opacity="1.0" stroke-dasharray="7.9 7.6"/>
</g>
<rect x="476.4" y="664.5" width="208.10000000000002" height="24.5" fill="#d9d9d9"/>
<rect x="476.4" y="664.5" width="208.10000000000002" height="24.5" fill="none" stroke="#333" stroke-width="1.2" stroke-opacity="0.72"/>
<text x="580.45" y="683.00" font-size="15.8" fill="#1a1a1a" text-anchor="middle">ORF10</text>
<rect x="476.4" y="689.0" width="208.10000000000002" height="181.39999999999998" fill="none" stroke="#333" stroke-width="1.2" stroke-opacity="0.72"/>
<line x1="515.58" x2="515.58" y1="870.40" y2="873.80" stroke="#333" stroke-width="1.2" stroke-opacity="0.9"/>
<text x="515.58" y="885.80" font-size="13.4" fill="#4d4d4d" text-anchor="middle">Tiger</text>
<line x1="580.61" x2="580.61" y1="870.40" y2="873.80" stroke="#333" stroke-width="1.2" stroke-opacity="0.9"/>
<text x="580.61" y="885.80" font-size="13.4" fill="#4d4d4d" text-anchor="middle">Lion</text>
<line x1="645.64" x2="645.64" y1="870.40" y2="873.80" stroke="#333" stroke-width="1.2" stroke-opacity="0.9"/>
<text x="645.64" y="885.80" font-size="13.4" fill="#4d4d4d" text-anchor="middle">Hyena</text>
<text x="-1.0" y="11.5" font-size="18.2" font-weight="bold" fill="#000">A</text>
<text x="348.0" y="11.6" font-size="18.2" font-weight="bold" fill="#000">B</text>
<text x="0.6" y="238.8" font-size="18.2" font-weight="bold" fill="#000">C</text>
<text x="0.8" y="464.0" font-size="18.2" font-weight="bold" fill="#000">D</text>
<g transform="translate(13.9,152.0) rotate(-90)" fill="#000">
<text x="-0.7" y="0" font-family="Liberation Serif" font-size="14.5">π</text>
<text x="6.6" y="0" font-size="16.3">N</text>
<text x="20.0" y="2.3" font-size="22.5">/</text>
<text x="28.0" y="0" font-family="Liberation Serif" font-size="14.5">π</text>
<text x="35.9" y="0" font-size="16.3">S</text>
<text x="55.3" y="0" font-size="16.3">ratio</text>
</g>
<g transform="translate(362.4,152.0) rotate(-90)" fill="#000">
<text x="-0.7" y="0" font-family="Liberation Serif" font-size="14.5">π</text>
<text x="6.6" y="0" font-size="16.3">N</text>
<text x="20.0" y="2.3" font-size="22.5">/</text>
<text x="28.0" y="0" font-family="Liberation Serif" font-size="14.5">π</text>
<text x="35.9" y="0" font-size="16.3">S</text>
<text x="55.3" y="0" font-size="16.3">ratio</text>
</g>
<g transform="translate(14.0,377.9) rotate(-90)" fill="#000">
<text x="-0.7" y="0" font-family="Liberation Serif" font-size="14.5">π</text>
<text x="6.6" y="0" font-size="16.3">N</text>
<text x="20.0" y="2.3" font-size="22.5">/</text>
<text x="28.0" y="0" font-family="Liberation Serif" font-size="14.5">π</text>
<text x="35.9" y="0" font-size="16.3">S</text>
<text x="55.3" y="0" font-size="16.3">ratio</text>
</g>
<g transform="translate(13.7,716.7) rotate(-90)" fill="#000">
<text x="-0.7" y="0" font-family="Liberation Serif" font-size="14.5">π</text>
<text x="6.6" y="0" font-size="16.3">N</text>
<text x="20.0" y="2.3" font-size="22.5">/</text>
<text x="28.0" y="0" font-family="Liberation Serif" font-size="14.5">π</text>
<text x="35.9" y="0" font-size="16.3">S</text>
<text x="55.3" y="0" font-size="16.3">ratio</text>
</g>
</svg></body></html>
